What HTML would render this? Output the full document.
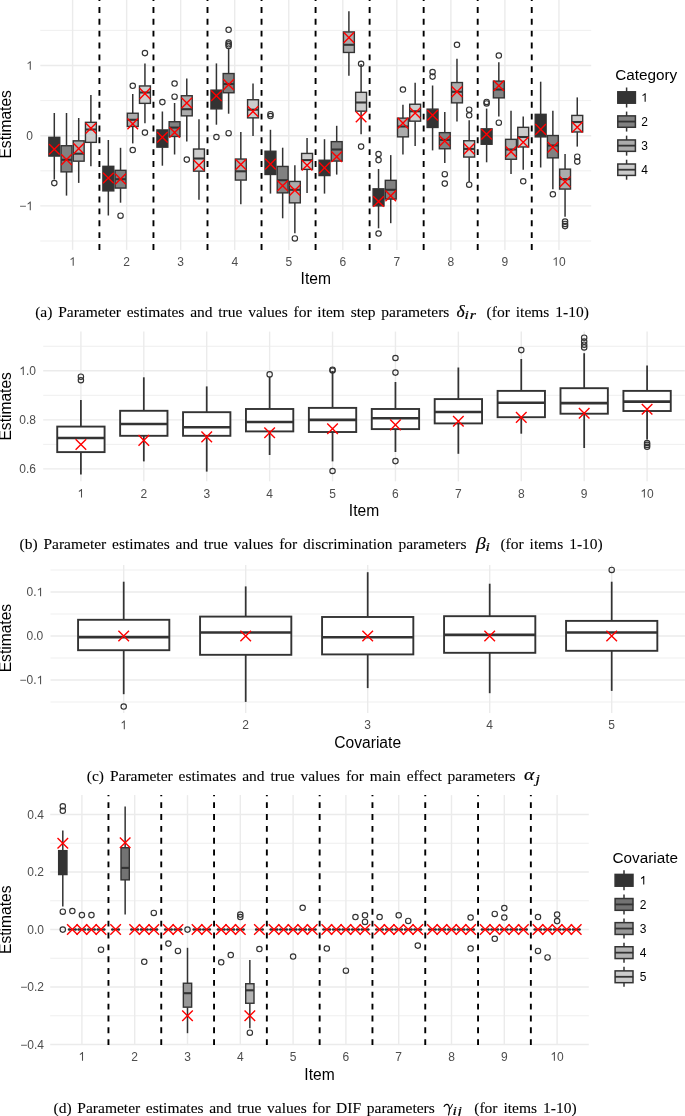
<!DOCTYPE html>
<html><head><meta charset="utf-8"><style>
html,body{margin:0;padding:0;background:#fff;overflow:hidden;}
svg{display:block;}
</style></head><body>
<svg width="685" height="1116" viewBox="0 0 685 1116">
<rect width="685" height="1116" fill="#fff"/>
<line x1="40.3" y1="241" x2="591.2" y2="241" stroke="#EBEBEB" stroke-width="0.8"/>
<line x1="40.3" y1="170.8" x2="591.2" y2="170.8" stroke="#EBEBEB" stroke-width="0.8"/>
<line x1="40.3" y1="100.6" x2="591.2" y2="100.6" stroke="#EBEBEB" stroke-width="0.8"/>
<line x1="40.3" y1="30.4" x2="591.2" y2="30.4" stroke="#EBEBEB" stroke-width="0.8"/>
<line x1="40.3" y1="205.9" x2="591.2" y2="205.9" stroke="#EBEBEB" stroke-width="1.4"/>
<line x1="40.3" y1="135.7" x2="591.2" y2="135.7" stroke="#EBEBEB" stroke-width="1.4"/>
<line x1="40.3" y1="65.5" x2="591.2" y2="65.5" stroke="#EBEBEB" stroke-width="1.4"/>
<line x1="72.6" y1="-2" x2="72.6" y2="249.9" stroke="#EBEBEB" stroke-width="1.4"/>
<line x1="126.64" y1="-2" x2="126.64" y2="249.9" stroke="#EBEBEB" stroke-width="1.4"/>
<line x1="180.68" y1="-2" x2="180.68" y2="249.9" stroke="#EBEBEB" stroke-width="1.4"/>
<line x1="234.72" y1="-2" x2="234.72" y2="249.9" stroke="#EBEBEB" stroke-width="1.4"/>
<line x1="288.76" y1="-2" x2="288.76" y2="249.9" stroke="#EBEBEB" stroke-width="1.4"/>
<line x1="342.8" y1="-2" x2="342.8" y2="249.9" stroke="#EBEBEB" stroke-width="1.4"/>
<line x1="396.84" y1="-2" x2="396.84" y2="249.9" stroke="#EBEBEB" stroke-width="1.4"/>
<line x1="450.88" y1="-2" x2="450.88" y2="249.9" stroke="#EBEBEB" stroke-width="1.4"/>
<line x1="504.92" y1="-2" x2="504.92" y2="249.9" stroke="#EBEBEB" stroke-width="1.4"/>
<line x1="558.96" y1="-2" x2="558.96" y2="249.9" stroke="#EBEBEB" stroke-width="1.4"/>
<line x1="54.3" y1="113" x2="54.3" y2="137.2" stroke="#333333" stroke-width="1.5"/>
<line x1="54.3" y1="156.2" x2="54.3" y2="179.5" stroke="#333333" stroke-width="1.5"/>
<rect x="48.85" y="137.34" width="10.9" height="18.72" fill="#333333" stroke="#333333" stroke-width="1.4"/>
<circle cx="54.3" cy="183.1" r="2.7" fill="none" stroke="#333333" stroke-width="1.15"/>
<path d="M49 143.9L59.6 154.5M49 154.5L59.6 143.9" stroke="#FF0000" stroke-width="1.4" fill="none"/>
<line x1="66.5" y1="113" x2="66.5" y2="145.6" stroke="#333333" stroke-width="1.5"/>
<line x1="66.5" y1="172" x2="66.5" y2="195.6" stroke="#333333" stroke-width="1.5"/>
<rect x="61.05" y="145.74" width="10.9" height="26.12" fill="#818181" stroke="#333333" stroke-width="1.4"/>
<line x1="61.12" y1="159.8" x2="71.88" y2="159.8" stroke="#333333" stroke-width="2.1"/>
<path d="M61.2 154.3L71.8 164.9M61.2 164.9L71.8 154.3" stroke="#FF0000" stroke-width="1.4" fill="none"/>
<line x1="78.7" y1="118" x2="78.7" y2="140.7" stroke="#333333" stroke-width="1.5"/>
<line x1="78.7" y1="161.3" x2="78.7" y2="182.9" stroke="#333333" stroke-width="1.5"/>
<rect x="73.25" y="140.84" width="10.9" height="20.32" fill="#ACACAC" stroke="#333333" stroke-width="1.4"/>
<line x1="73.32" y1="153.7" x2="84.08" y2="153.7" stroke="#333333" stroke-width="2.1"/>
<path d="M73.4 143.3L84 153.9M73.4 153.9L84 143.3" stroke="#FF0000" stroke-width="1.4" fill="none"/>
<line x1="90.9" y1="95" x2="90.9" y2="122.2" stroke="#333333" stroke-width="1.5"/>
<line x1="90.9" y1="142.5" x2="90.9" y2="166.2" stroke="#333333" stroke-width="1.5"/>
<rect x="85.45" y="122.34" width="10.9" height="20.02" fill="#CCCCCC" stroke="#333333" stroke-width="1.4"/>
<line x1="85.52" y1="129.5" x2="96.28" y2="129.5" stroke="#333333" stroke-width="2.1"/>
<path d="M85.6 123L96.2 133.6M85.6 133.6L96.2 123" stroke="#FF0000" stroke-width="1.4" fill="none"/>
<line x1="108.34" y1="140" x2="108.34" y2="166.2" stroke="#333333" stroke-width="1.5"/>
<line x1="108.34" y1="191" x2="108.34" y2="215.5" stroke="#333333" stroke-width="1.5"/>
<rect x="102.89" y="166.34" width="10.9" height="24.52" fill="#333333" stroke="#333333" stroke-width="1.4"/>
<path d="M103.04 172.7L113.64 183.3M103.04 183.3L113.64 172.7" stroke="#FF0000" stroke-width="1.4" fill="none"/>
<line x1="120.54" y1="147.8" x2="120.54" y2="170.2" stroke="#333333" stroke-width="1.5"/>
<line x1="120.54" y1="188.2" x2="120.54" y2="202.7" stroke="#333333" stroke-width="1.5"/>
<rect x="115.09" y="170.34" width="10.9" height="17.72" fill="#818181" stroke="#333333" stroke-width="1.4"/>
<line x1="115.16" y1="179.2" x2="125.92" y2="179.2" stroke="#333333" stroke-width="2.1"/>
<circle cx="120.54" cy="215.7" r="2.7" fill="none" stroke="#333333" stroke-width="1.15"/>
<path d="M115.24 173.7L125.84 184.3M115.24 184.3L125.84 173.7" stroke="#FF0000" stroke-width="1.4" fill="none"/>
<line x1="132.74" y1="94" x2="132.74" y2="113.1" stroke="#333333" stroke-width="1.5"/>
<line x1="132.74" y1="126.6" x2="132.74" y2="143.4" stroke="#333333" stroke-width="1.5"/>
<rect x="127.29" y="113.24" width="10.9" height="13.22" fill="#ACACAC" stroke="#333333" stroke-width="1.4"/>
<line x1="127.36" y1="119.8" x2="138.12" y2="119.8" stroke="#333333" stroke-width="2.1"/>
<circle cx="132.74" cy="85.8" r="2.7" fill="none" stroke="#333333" stroke-width="1.15"/>
<circle cx="132.74" cy="150" r="2.7" fill="none" stroke="#333333" stroke-width="1.15"/>
<path d="M127.44 118.6L138.04 129.2M127.44 129.2L138.04 118.6" stroke="#FF0000" stroke-width="1.4" fill="none"/>
<line x1="144.94" y1="63.4" x2="144.94" y2="85.8" stroke="#333333" stroke-width="1.5"/>
<line x1="144.94" y1="103.5" x2="144.94" y2="123.2" stroke="#333333" stroke-width="1.5"/>
<rect x="139.49" y="85.94" width="10.9" height="17.42" fill="#CCCCCC" stroke="#333333" stroke-width="1.4"/>
<line x1="139.56" y1="92.5" x2="150.32" y2="92.5" stroke="#333333" stroke-width="2.1"/>
<circle cx="144.94" cy="53.1" r="2.7" fill="none" stroke="#333333" stroke-width="1.15"/>
<circle cx="144.94" cy="132.6" r="2.7" fill="none" stroke="#333333" stroke-width="1.15"/>
<path d="M139.64 88.3L150.24 98.9M139.64 98.9L150.24 88.3" stroke="#FF0000" stroke-width="1.4" fill="none"/>
<line x1="162.38" y1="111.5" x2="162.38" y2="129.8" stroke="#333333" stroke-width="1.5"/>
<line x1="162.38" y1="147.3" x2="162.38" y2="165.7" stroke="#333333" stroke-width="1.5"/>
<rect x="156.93" y="129.94" width="10.9" height="17.22" fill="#333333" stroke="#333333" stroke-width="1.4"/>
<circle cx="162.38" cy="102.1" r="2.7" fill="none" stroke="#333333" stroke-width="1.15"/>
<path d="M157.08 131.9L167.68 142.5M157.08 142.5L167.68 131.9" stroke="#FF0000" stroke-width="1.4" fill="none"/>
<line x1="174.58" y1="103" x2="174.58" y2="121.6" stroke="#333333" stroke-width="1.5"/>
<line x1="174.58" y1="136.6" x2="174.58" y2="154.5" stroke="#333333" stroke-width="1.5"/>
<rect x="169.13" y="121.74" width="10.9" height="14.72" fill="#818181" stroke="#333333" stroke-width="1.4"/>
<line x1="169.2" y1="127.6" x2="179.96" y2="127.6" stroke="#333333" stroke-width="2.1"/>
<circle cx="174.58" cy="96.7" r="2.7" fill="none" stroke="#333333" stroke-width="1.15"/>
<circle cx="174.58" cy="83.5" r="2.7" fill="none" stroke="#333333" stroke-width="1.15"/>
<path d="M169.28 127.2L179.88 137.8M169.28 137.8L179.88 127.2" stroke="#FF0000" stroke-width="1.4" fill="none"/>
<line x1="186.78" y1="78.4" x2="186.78" y2="95.6" stroke="#333333" stroke-width="1.5"/>
<line x1="186.78" y1="116" x2="186.78" y2="141.5" stroke="#333333" stroke-width="1.5"/>
<rect x="181.33" y="95.74" width="10.9" height="20.12" fill="#ACACAC" stroke="#333333" stroke-width="1.4"/>
<line x1="181.4" y1="109.2" x2="192.16" y2="109.2" stroke="#333333" stroke-width="2.1"/>
<circle cx="186.78" cy="159.6" r="2.7" fill="none" stroke="#333333" stroke-width="1.15"/>
<path d="M181.48 97.7L192.08 108.3M181.48 108.3L192.08 97.7" stroke="#FF0000" stroke-width="1.4" fill="none"/>
<line x1="198.98" y1="119.3" x2="198.98" y2="148.9" stroke="#333333" stroke-width="1.5"/>
<line x1="198.98" y1="171.3" x2="198.98" y2="199.7" stroke="#333333" stroke-width="1.5"/>
<rect x="193.53" y="149.04" width="10.9" height="22.12" fill="#CCCCCC" stroke="#333333" stroke-width="1.4"/>
<line x1="193.6" y1="158.5" x2="204.36" y2="158.5" stroke="#333333" stroke-width="2.1"/>
<path d="M193.68 159.9L204.28 170.5M193.68 170.5L204.28 159.9" stroke="#FF0000" stroke-width="1.4" fill="none"/>
<line x1="216.42" y1="63.4" x2="216.42" y2="90" stroke="#333333" stroke-width="1.5"/>
<line x1="216.42" y1="109" x2="216.42" y2="124.7" stroke="#333333" stroke-width="1.5"/>
<rect x="210.97" y="90.14" width="10.9" height="18.72" fill="#333333" stroke="#333333" stroke-width="1.4"/>
<circle cx="216.42" cy="137" r="2.7" fill="none" stroke="#333333" stroke-width="1.15"/>
<path d="M211.12 90.5L221.72 101.1M211.12 101.1L221.72 90.5" stroke="#FF0000" stroke-width="1.4" fill="none"/>
<line x1="228.62" y1="48.1" x2="228.62" y2="73.4" stroke="#333333" stroke-width="1.5"/>
<line x1="228.62" y1="92.9" x2="228.62" y2="113.7" stroke="#333333" stroke-width="1.5"/>
<rect x="223.17" y="73.54" width="10.9" height="19.22" fill="#818181" stroke="#333333" stroke-width="1.4"/>
<line x1="223.24" y1="84" x2="234" y2="84" stroke="#333333" stroke-width="2.1"/>
<circle cx="228.62" cy="29.8" r="2.7" fill="none" stroke="#333333" stroke-width="1.15"/>
<circle cx="228.62" cy="42.5" r="2.7" fill="none" stroke="#333333" stroke-width="1.15"/>
<circle cx="228.62" cy="44.3" r="2.7" fill="none" stroke="#333333" stroke-width="1.15"/>
<circle cx="228.62" cy="45.9" r="2.7" fill="none" stroke="#333333" stroke-width="1.15"/>
<circle cx="228.62" cy="133.2" r="2.7" fill="none" stroke="#333333" stroke-width="1.15"/>
<path d="M223.32 79.3L233.92 89.9M223.32 89.9L233.92 79.3" stroke="#FF0000" stroke-width="1.4" fill="none"/>
<line x1="240.82" y1="132.1" x2="240.82" y2="158.9" stroke="#333333" stroke-width="1.5"/>
<line x1="240.82" y1="180.2" x2="240.82" y2="204.2" stroke="#333333" stroke-width="1.5"/>
<rect x="235.37" y="159.04" width="10.9" height="21.02" fill="#ACACAC" stroke="#333333" stroke-width="1.4"/>
<line x1="235.44" y1="171.3" x2="246.2" y2="171.3" stroke="#333333" stroke-width="2.1"/>
<path d="M235.52 159.2L246.12 169.8M235.52 169.8L246.12 159.2" stroke="#FF0000" stroke-width="1.4" fill="none"/>
<line x1="253.02" y1="83.5" x2="253.02" y2="99.6" stroke="#333333" stroke-width="1.5"/>
<line x1="253.02" y1="118" x2="253.02" y2="135.9" stroke="#333333" stroke-width="1.5"/>
<rect x="247.57" y="99.74" width="10.9" height="18.12" fill="#CCCCCC" stroke="#333333" stroke-width="1.4"/>
<line x1="247.64" y1="109.7" x2="258.4" y2="109.7" stroke="#333333" stroke-width="2.1"/>
<path d="M247.72 106.2L258.32 116.8M247.72 116.8L258.32 106.2" stroke="#FF0000" stroke-width="1.4" fill="none"/>
<line x1="270.46" y1="129.8" x2="270.46" y2="151.1" stroke="#333333" stroke-width="1.5"/>
<line x1="270.46" y1="174.6" x2="270.46" y2="193.6" stroke="#333333" stroke-width="1.5"/>
<rect x="265.01" y="151.24" width="10.9" height="23.22" fill="#333333" stroke="#333333" stroke-width="1.4"/>
<circle cx="270.46" cy="114.2" r="2.7" fill="none" stroke="#333333" stroke-width="1.15"/>
<circle cx="270.46" cy="116" r="2.7" fill="none" stroke="#333333" stroke-width="1.15"/>
<path d="M265.16 158.8L275.76 169.4M265.16 169.4L275.76 158.8" stroke="#FF0000" stroke-width="1.4" fill="none"/>
<line x1="282.66" y1="147.7" x2="282.66" y2="166.3" stroke="#333333" stroke-width="1.5"/>
<line x1="282.66" y1="193" x2="282.66" y2="218.3" stroke="#333333" stroke-width="1.5"/>
<rect x="277.21" y="166.44" width="10.9" height="26.42" fill="#818181" stroke="#333333" stroke-width="1.4"/>
<line x1="277.28" y1="180.2" x2="288.04" y2="180.2" stroke="#333333" stroke-width="2.1"/>
<path d="M277.36 180.5L287.96 191.1M277.36 191.1L287.96 180.5" stroke="#FF0000" stroke-width="1.4" fill="none"/>
<line x1="294.86" y1="165.2" x2="294.86" y2="181.3" stroke="#333333" stroke-width="1.5"/>
<line x1="294.86" y1="203" x2="294.86" y2="233.3" stroke="#333333" stroke-width="1.5"/>
<rect x="289.41" y="181.44" width="10.9" height="21.42" fill="#ACACAC" stroke="#333333" stroke-width="1.4"/>
<line x1="289.48" y1="189.8" x2="300.24" y2="189.8" stroke="#333333" stroke-width="2.1"/>
<circle cx="294.86" cy="238.4" r="2.7" fill="none" stroke="#333333" stroke-width="1.15"/>
<path d="M289.56 185L300.16 195.6M289.56 195.6L300.16 185" stroke="#FF0000" stroke-width="1.4" fill="none"/>
<line x1="307.06" y1="138.1" x2="307.06" y2="153.3" stroke="#333333" stroke-width="1.5"/>
<line x1="307.06" y1="169.5" x2="307.06" y2="193" stroke="#333333" stroke-width="1.5"/>
<rect x="301.61" y="153.44" width="10.9" height="15.92" fill="#CCCCCC" stroke="#333333" stroke-width="1.4"/>
<line x1="301.68" y1="160.1" x2="312.44" y2="160.1" stroke="#333333" stroke-width="2.1"/>
<path d="M301.76 159.9L312.36 170.5M301.76 170.5L312.36 159.9" stroke="#FF0000" stroke-width="1.4" fill="none"/>
<line x1="324.5" y1="139.2" x2="324.5" y2="160.1" stroke="#333333" stroke-width="1.5"/>
<line x1="324.5" y1="175.7" x2="324.5" y2="193.6" stroke="#333333" stroke-width="1.5"/>
<rect x="319.05" y="160.24" width="10.9" height="15.32" fill="#333333" stroke="#333333" stroke-width="1.4"/>
<path d="M319.2 162.6L329.8 173.2M319.2 173.2L329.8 162.6" stroke="#FF0000" stroke-width="1.4" fill="none"/>
<line x1="336.7" y1="125.8" x2="336.7" y2="141.5" stroke="#333333" stroke-width="1.5"/>
<line x1="336.7" y1="161.2" x2="336.7" y2="174.6" stroke="#333333" stroke-width="1.5"/>
<rect x="331.25" y="141.64" width="10.9" height="19.42" fill="#818181" stroke="#333333" stroke-width="1.4"/>
<line x1="331.32" y1="149.5" x2="342.08" y2="149.5" stroke="#333333" stroke-width="2.1"/>
<path d="M331.4 151.4L342 162M331.4 162L342 151.4" stroke="#FF0000" stroke-width="1.4" fill="none"/>
<line x1="348.9" y1="11.2" x2="348.9" y2="31.8" stroke="#333333" stroke-width="1.5"/>
<line x1="348.9" y1="52.6" x2="348.9" y2="75.7" stroke="#333333" stroke-width="1.5"/>
<rect x="343.45" y="31.94" width="10.9" height="20.52" fill="#ACACAC" stroke="#333333" stroke-width="1.4"/>
<line x1="343.52" y1="44.8" x2="354.28" y2="44.8" stroke="#333333" stroke-width="2.1"/>
<path d="M343.6 32.3L354.2 42.9M343.6 42.9L354.2 32.3" stroke="#FF0000" stroke-width="1.4" fill="none"/>
<line x1="361.1" y1="64" x2="361.1" y2="92.2" stroke="#333333" stroke-width="1.5"/>
<line x1="361.1" y1="111.3" x2="361.1" y2="134.3" stroke="#333333" stroke-width="1.5"/>
<rect x="355.65" y="92.34" width="10.9" height="18.82" fill="#CCCCCC" stroke="#333333" stroke-width="1.4"/>
<line x1="355.72" y1="102.5" x2="366.48" y2="102.5" stroke="#333333" stroke-width="2.1"/>
<circle cx="361.1" cy="63.8" r="2.7" fill="none" stroke="#333333" stroke-width="1.15"/>
<circle cx="361.1" cy="146.6" r="2.7" fill="none" stroke="#333333" stroke-width="1.15"/>
<path d="M355.8 111.6L366.4 122.2M355.8 122.2L366.4 111.6" stroke="#FF0000" stroke-width="1.4" fill="none"/>
<line x1="378.54" y1="169" x2="378.54" y2="188.7" stroke="#333333" stroke-width="1.5"/>
<line x1="378.54" y1="206" x2="378.54" y2="228.3" stroke="#333333" stroke-width="1.5"/>
<rect x="373.09" y="188.84" width="10.9" height="17.02" fill="#333333" stroke="#333333" stroke-width="1.4"/>
<circle cx="378.54" cy="154" r="2.7" fill="none" stroke="#333333" stroke-width="1.15"/>
<circle cx="378.54" cy="160.1" r="2.7" fill="none" stroke="#333333" stroke-width="1.15"/>
<circle cx="378.54" cy="233.5" r="2.7" fill="none" stroke="#333333" stroke-width="1.15"/>
<path d="M373.24 196.2L383.84 206.8M373.24 206.8L383.84 196.2" stroke="#FF0000" stroke-width="1.4" fill="none"/>
<line x1="390.74" y1="155.1" x2="390.74" y2="180.2" stroke="#333333" stroke-width="1.5"/>
<line x1="390.74" y1="199.2" x2="390.74" y2="223.2" stroke="#333333" stroke-width="1.5"/>
<rect x="385.29" y="180.34" width="10.9" height="18.72" fill="#818181" stroke="#333333" stroke-width="1.4"/>
<line x1="385.36" y1="189.8" x2="396.12" y2="189.8" stroke="#333333" stroke-width="2.1"/>
<path d="M385.44 190.6L396.04 201.2M385.44 201.2L396.04 190.6" stroke="#FF0000" stroke-width="1.4" fill="none"/>
<line x1="402.94" y1="104.8" x2="402.94" y2="118" stroke="#333333" stroke-width="1.5"/>
<line x1="402.94" y1="137" x2="402.94" y2="154.5" stroke="#333333" stroke-width="1.5"/>
<rect x="397.49" y="118.14" width="10.9" height="18.72" fill="#ACACAC" stroke="#333333" stroke-width="1.4"/>
<line x1="397.56" y1="126.5" x2="408.32" y2="126.5" stroke="#333333" stroke-width="2.1"/>
<circle cx="402.94" cy="89.5" r="2.7" fill="none" stroke="#333333" stroke-width="1.15"/>
<path d="M397.64 117.8L408.24 128.4M397.64 128.4L408.24 117.8" stroke="#FF0000" stroke-width="1.4" fill="none"/>
<line x1="415.14" y1="82.8" x2="415.14" y2="104.1" stroke="#333333" stroke-width="1.5"/>
<line x1="415.14" y1="121.3" x2="415.14" y2="146" stroke="#333333" stroke-width="1.5"/>
<rect x="409.69" y="104.24" width="10.9" height="16.92" fill="#CCCCCC" stroke="#333333" stroke-width="1.4"/>
<line x1="409.76" y1="111.3" x2="420.52" y2="111.3" stroke="#333333" stroke-width="2.1"/>
<path d="M409.84 107.7L420.44 118.3M409.84 118.3L420.44 107.7" stroke="#FF0000" stroke-width="1.4" fill="none"/>
<line x1="432.58" y1="85.5" x2="432.58" y2="109" stroke="#333333" stroke-width="1.5"/>
<line x1="432.58" y1="127.6" x2="432.58" y2="150.4" stroke="#333333" stroke-width="1.5"/>
<rect x="427.13" y="109.14" width="10.9" height="18.32" fill="#333333" stroke="#333333" stroke-width="1.4"/>
<circle cx="432.58" cy="72.1" r="2.7" fill="none" stroke="#333333" stroke-width="1.15"/>
<circle cx="432.58" cy="76.6" r="2.7" fill="none" stroke="#333333" stroke-width="1.15"/>
<path d="M427.28 110L437.88 120.6M427.28 120.6L437.88 110" stroke="#FF0000" stroke-width="1.4" fill="none"/>
<line x1="444.78" y1="111.9" x2="444.78" y2="132.5" stroke="#333333" stroke-width="1.5"/>
<line x1="444.78" y1="148.9" x2="444.78" y2="163" stroke="#333333" stroke-width="1.5"/>
<rect x="439.33" y="132.64" width="10.9" height="16.12" fill="#818181" stroke="#333333" stroke-width="1.4"/>
<line x1="439.4" y1="139.9" x2="450.16" y2="139.9" stroke="#333333" stroke-width="2.1"/>
<circle cx="444.78" cy="174.2" r="2.7" fill="none" stroke="#333333" stroke-width="1.15"/>
<circle cx="444.78" cy="183.6" r="2.7" fill="none" stroke="#333333" stroke-width="1.15"/>
<path d="M439.48 135.7L450.08 146.3M439.48 146.3L450.08 135.7" stroke="#FF0000" stroke-width="1.4" fill="none"/>
<line x1="456.98" y1="58.7" x2="456.98" y2="82.4" stroke="#333333" stroke-width="1.5"/>
<line x1="456.98" y1="103" x2="456.98" y2="121.6" stroke="#333333" stroke-width="1.5"/>
<rect x="451.53" y="82.54" width="10.9" height="20.32" fill="#ACACAC" stroke="#333333" stroke-width="1.4"/>
<line x1="451.6" y1="91.8" x2="462.36" y2="91.8" stroke="#333333" stroke-width="2.1"/>
<circle cx="456.98" cy="44.8" r="2.7" fill="none" stroke="#333333" stroke-width="1.15"/>
<path d="M451.68 86.5L462.28 97.1M451.68 97.1L462.28 86.5" stroke="#FF0000" stroke-width="1.4" fill="none"/>
<line x1="469.18" y1="120.2" x2="469.18" y2="140.6" stroke="#333333" stroke-width="1.5"/>
<line x1="469.18" y1="157.2" x2="469.18" y2="182" stroke="#333333" stroke-width="1.5"/>
<rect x="463.73" y="140.74" width="10.9" height="16.32" fill="#CCCCCC" stroke="#333333" stroke-width="1.4"/>
<line x1="463.8" y1="148.9" x2="474.56" y2="148.9" stroke="#333333" stroke-width="2.1"/>
<circle cx="469.18" cy="109.7" r="2.7" fill="none" stroke="#333333" stroke-width="1.15"/>
<circle cx="469.18" cy="115.3" r="2.7" fill="none" stroke="#333333" stroke-width="1.15"/>
<circle cx="469.18" cy="184.7" r="2.7" fill="none" stroke="#333333" stroke-width="1.15"/>
<path d="M463.88 143.6L474.48 154.2M463.88 154.2L474.48 143.6" stroke="#FF0000" stroke-width="1.4" fill="none"/>
<line x1="486.62" y1="108.6" x2="486.62" y2="128.7" stroke="#333333" stroke-width="1.5"/>
<line x1="486.62" y1="144.4" x2="486.62" y2="162.3" stroke="#333333" stroke-width="1.5"/>
<rect x="481.17" y="128.84" width="10.9" height="15.42" fill="#333333" stroke="#333333" stroke-width="1.4"/>
<circle cx="486.62" cy="101.9" r="2.7" fill="none" stroke="#333333" stroke-width="1.15"/>
<circle cx="486.62" cy="103.4" r="2.7" fill="none" stroke="#333333" stroke-width="1.15"/>
<path d="M481.32 129L491.92 139.6M481.32 139.6L491.92 129" stroke="#FF0000" stroke-width="1.4" fill="none"/>
<line x1="498.82" y1="62.2" x2="498.82" y2="81" stroke="#333333" stroke-width="1.5"/>
<line x1="498.82" y1="98" x2="498.82" y2="116.4" stroke="#333333" stroke-width="1.5"/>
<rect x="493.37" y="81.14" width="10.9" height="16.72" fill="#818181" stroke="#333333" stroke-width="1.4"/>
<line x1="493.44" y1="89.5" x2="504.2" y2="89.5" stroke="#333333" stroke-width="2.1"/>
<circle cx="498.82" cy="55.5" r="2.7" fill="none" stroke="#333333" stroke-width="1.15"/>
<circle cx="498.82" cy="122.7" r="2.7" fill="none" stroke="#333333" stroke-width="1.15"/>
<path d="M493.52 80.4L504.12 91M493.52 91L504.12 80.4" stroke="#FF0000" stroke-width="1.4" fill="none"/>
<line x1="511.02" y1="110.8" x2="511.02" y2="139.2" stroke="#333333" stroke-width="1.5"/>
<line x1="511.02" y1="159.4" x2="511.02" y2="173.9" stroke="#333333" stroke-width="1.5"/>
<rect x="505.57" y="139.34" width="10.9" height="19.92" fill="#ACACAC" stroke="#333333" stroke-width="1.4"/>
<line x1="505.64" y1="149.5" x2="516.4" y2="149.5" stroke="#333333" stroke-width="2.1"/>
<path d="M505.72 146.5L516.32 157.1M505.72 157.1L516.32 146.5" stroke="#FF0000" stroke-width="1.4" fill="none"/>
<line x1="523.22" y1="116.4" x2="523.22" y2="127.2" stroke="#333333" stroke-width="1.5"/>
<line x1="523.22" y1="147.1" x2="523.22" y2="169.7" stroke="#333333" stroke-width="1.5"/>
<rect x="517.77" y="127.34" width="10.9" height="19.62" fill="#CCCCCC" stroke="#333333" stroke-width="1.4"/>
<line x1="517.84" y1="137" x2="528.6" y2="137" stroke="#333333" stroke-width="2.1"/>
<circle cx="523.22" cy="181.3" r="2.7" fill="none" stroke="#333333" stroke-width="1.15"/>
<path d="M517.92 136.9L528.52 147.5M517.92 147.5L528.52 136.9" stroke="#FF0000" stroke-width="1.4" fill="none"/>
<line x1="540.66" y1="81.7" x2="540.66" y2="114.2" stroke="#333333" stroke-width="1.5"/>
<line x1="540.66" y1="137" x2="540.66" y2="167.5" stroke="#333333" stroke-width="1.5"/>
<rect x="535.21" y="114.34" width="10.9" height="22.52" fill="#333333" stroke="#333333" stroke-width="1.4"/>
<path d="M535.36 124.1L545.96 134.7M535.36 134.7L545.96 124.1" stroke="#FF0000" stroke-width="1.4" fill="none"/>
<line x1="552.86" y1="110.8" x2="552.86" y2="135.4" stroke="#333333" stroke-width="1.5"/>
<line x1="552.86" y1="158" x2="552.86" y2="189.2" stroke="#333333" stroke-width="1.5"/>
<rect x="547.41" y="135.54" width="10.9" height="22.32" fill="#818181" stroke="#333333" stroke-width="1.4"/>
<line x1="547.48" y1="145.5" x2="558.24" y2="145.5" stroke="#333333" stroke-width="2.1"/>
<circle cx="552.86" cy="194.3" r="2.7" fill="none" stroke="#333333" stroke-width="1.15"/>
<path d="M547.56 142L558.16 152.6M547.56 152.6L558.16 142" stroke="#FF0000" stroke-width="1.4" fill="none"/>
<line x1="565.06" y1="154" x2="565.06" y2="169" stroke="#333333" stroke-width="1.5"/>
<line x1="565.06" y1="189.2" x2="565.06" y2="216.7" stroke="#333333" stroke-width="1.5"/>
<rect x="559.61" y="169.14" width="10.9" height="19.92" fill="#ACACAC" stroke="#333333" stroke-width="1.4"/>
<line x1="559.68" y1="179.1" x2="570.44" y2="179.1" stroke="#333333" stroke-width="2.1"/>
<circle cx="565.06" cy="221.6" r="2.7" fill="none" stroke="#333333" stroke-width="1.15"/>
<circle cx="565.06" cy="223.9" r="2.7" fill="none" stroke="#333333" stroke-width="1.15"/>
<circle cx="565.06" cy="226.1" r="2.7" fill="none" stroke="#333333" stroke-width="1.15"/>
<path d="M559.76 176.5L570.36 187.1M559.76 187.1L570.36 176.5" stroke="#FF0000" stroke-width="1.4" fill="none"/>
<line x1="577.26" y1="97.4" x2="577.26" y2="115.3" stroke="#333333" stroke-width="1.5"/>
<line x1="577.26" y1="132.1" x2="577.26" y2="146.6" stroke="#333333" stroke-width="1.5"/>
<rect x="571.81" y="115.44" width="10.9" height="16.52" fill="#CCCCCC" stroke="#333333" stroke-width="1.4"/>
<line x1="571.88" y1="122" x2="582.64" y2="122" stroke="#333333" stroke-width="2.1"/>
<circle cx="577.26" cy="156.7" r="2.7" fill="none" stroke="#333333" stroke-width="1.15"/>
<circle cx="577.26" cy="161.6" r="2.7" fill="none" stroke="#333333" stroke-width="1.15"/>
<path d="M571.96 121.9L582.56 132.5M571.96 132.5L582.56 121.9" stroke="#FF0000" stroke-width="1.4" fill="none"/>
<line x1="99.42" y1="249.9" x2="99.42" y2="-2" stroke="#000" stroke-width="1.9" stroke-dasharray="5.9 5.95"/>
<line x1="153.46" y1="249.9" x2="153.46" y2="-2" stroke="#000" stroke-width="1.9" stroke-dasharray="5.9 5.95"/>
<line x1="207.5" y1="249.9" x2="207.5" y2="-2" stroke="#000" stroke-width="1.9" stroke-dasharray="5.9 5.95"/>
<line x1="261.54" y1="249.9" x2="261.54" y2="-2" stroke="#000" stroke-width="1.9" stroke-dasharray="5.9 5.95"/>
<line x1="315.58" y1="249.9" x2="315.58" y2="-2" stroke="#000" stroke-width="1.9" stroke-dasharray="5.9 5.95"/>
<line x1="369.62" y1="249.9" x2="369.62" y2="-2" stroke="#000" stroke-width="1.9" stroke-dasharray="5.9 5.95"/>
<line x1="423.66" y1="249.9" x2="423.66" y2="-2" stroke="#000" stroke-width="1.9" stroke-dasharray="5.9 5.95"/>
<line x1="477.7" y1="249.9" x2="477.7" y2="-2" stroke="#000" stroke-width="1.9" stroke-dasharray="5.9 5.95"/>
<line x1="531.74" y1="249.9" x2="531.74" y2="-2" stroke="#000" stroke-width="1.9" stroke-dasharray="5.9 5.95"/>
<line x1="626.6" y1="87.5" x2="626.6" y2="107.5" stroke="#333333" stroke-width="1.5"/>
<rect x="617.8" y="91.8" width="17.6" height="11.4" fill="#333333" stroke="#333333" stroke-width="1.5"/>
<line x1="626.6" y1="111.57" x2="626.6" y2="131.57" stroke="#333333" stroke-width="1.5"/>
<rect x="617.8" y="115.87" width="17.6" height="11.4" fill="#818181" stroke="#333333" stroke-width="1.5"/>
<line x1="617.6" y1="121.57" x2="635.6" y2="121.57" stroke="#333333" stroke-width="1.8"/>
<line x1="626.6" y1="135.64" x2="626.6" y2="155.64" stroke="#333333" stroke-width="1.5"/>
<rect x="617.8" y="139.94" width="17.6" height="11.4" fill="#ACACAC" stroke="#333333" stroke-width="1.5"/>
<line x1="617.6" y1="145.64" x2="635.6" y2="145.64" stroke="#333333" stroke-width="1.8"/>
<line x1="626.6" y1="159.71" x2="626.6" y2="179.71" stroke="#333333" stroke-width="1.5"/>
<rect x="617.8" y="164.01" width="17.6" height="11.4" fill="#CCCCCC" stroke="#333333" stroke-width="1.5"/>
<line x1="617.6" y1="169.71" x2="635.6" y2="169.71" stroke="#333333" stroke-width="1.8"/>
<line x1="43.2" y1="444.38" x2="684.8" y2="444.38" stroke="#EBEBEB" stroke-width="0.8"/>
<line x1="43.2" y1="395.32" x2="684.8" y2="395.32" stroke="#EBEBEB" stroke-width="0.8"/>
<line x1="43.2" y1="346.27" x2="684.8" y2="346.27" stroke="#EBEBEB" stroke-width="0.8"/>
<line x1="43.2" y1="468.9" x2="684.8" y2="468.9" stroke="#EBEBEB" stroke-width="1.4"/>
<line x1="43.2" y1="419.85" x2="684.8" y2="419.85" stroke="#EBEBEB" stroke-width="1.4"/>
<line x1="43.2" y1="370.8" x2="684.8" y2="370.8" stroke="#EBEBEB" stroke-width="1.4"/>
<line x1="80.9" y1="331.6" x2="80.9" y2="481.3" stroke="#EBEBEB" stroke-width="1.4"/>
<line x1="143.81" y1="331.6" x2="143.81" y2="481.3" stroke="#EBEBEB" stroke-width="1.4"/>
<line x1="206.72" y1="331.6" x2="206.72" y2="481.3" stroke="#EBEBEB" stroke-width="1.4"/>
<line x1="269.63" y1="331.6" x2="269.63" y2="481.3" stroke="#EBEBEB" stroke-width="1.4"/>
<line x1="332.54" y1="331.6" x2="332.54" y2="481.3" stroke="#EBEBEB" stroke-width="1.4"/>
<line x1="395.45" y1="331.6" x2="395.45" y2="481.3" stroke="#EBEBEB" stroke-width="1.4"/>
<line x1="458.36" y1="331.6" x2="458.36" y2="481.3" stroke="#EBEBEB" stroke-width="1.4"/>
<line x1="521.27" y1="331.6" x2="521.27" y2="481.3" stroke="#EBEBEB" stroke-width="1.4"/>
<line x1="584.18" y1="331.6" x2="584.18" y2="481.3" stroke="#EBEBEB" stroke-width="1.4"/>
<line x1="647.09" y1="331.6" x2="647.09" y2="481.3" stroke="#EBEBEB" stroke-width="1.4"/>
<line x1="80.9" y1="400" x2="80.9" y2="426.4" stroke="#333333" stroke-width="1.75"/>
<line x1="80.9" y1="452.3" x2="80.9" y2="474.5" stroke="#333333" stroke-width="1.75"/>
<rect x="57.23" y="426.59" width="47.35" height="25.52" fill="#FFFFFF" stroke="#333333" stroke-width="1.9"/>
<line x1="57.32" y1="438" x2="104.48" y2="438" stroke="#333333" stroke-width="2.6"/>
<circle cx="80.9" cy="376.7" r="2.7" fill="none" stroke="#333333" stroke-width="1.15"/>
<circle cx="80.9" cy="380.2" r="2.7" fill="none" stroke="#333333" stroke-width="1.15"/>
<path d="M75.6 439.2L86.2 449.8M75.6 449.8L86.2 439.2" stroke="#FF0000" stroke-width="1.4" fill="none"/>
<line x1="143.81" y1="377.3" x2="143.81" y2="410.6" stroke="#333333" stroke-width="1.75"/>
<line x1="143.81" y1="436" x2="143.81" y2="461.4" stroke="#333333" stroke-width="1.75"/>
<rect x="120.13" y="410.79" width="47.35" height="25.02" fill="#FFFFFF" stroke="#333333" stroke-width="1.9"/>
<line x1="120.23" y1="424" x2="167.39" y2="424" stroke="#333333" stroke-width="2.6"/>
<path d="M138.51 435.1L149.11 445.7M138.51 445.7L149.11 435.1" stroke="#FF0000" stroke-width="1.4" fill="none"/>
<line x1="206.72" y1="386.4" x2="206.72" y2="412" stroke="#333333" stroke-width="1.75"/>
<line x1="206.72" y1="436" x2="206.72" y2="471.6" stroke="#333333" stroke-width="1.75"/>
<rect x="183.04" y="412.19" width="47.35" height="23.62" fill="#FFFFFF" stroke="#333333" stroke-width="1.9"/>
<line x1="183.14" y1="427.2" x2="230.3" y2="427.2" stroke="#333333" stroke-width="2.6"/>
<path d="M201.42 431.6L212.02 442.2M201.42 442.2L212.02 431.6" stroke="#FF0000" stroke-width="1.4" fill="none"/>
<line x1="269.63" y1="376.7" x2="269.63" y2="408.8" stroke="#333333" stroke-width="1.75"/>
<line x1="269.63" y1="431.6" x2="269.63" y2="455" stroke="#333333" stroke-width="1.75"/>
<rect x="245.95" y="408.99" width="47.35" height="22.42" fill="#FFFFFF" stroke="#333333" stroke-width="1.9"/>
<line x1="246.05" y1="422" x2="293.21" y2="422" stroke="#333333" stroke-width="2.6"/>
<circle cx="269.63" cy="374.4" r="2.7" fill="none" stroke="#333333" stroke-width="1.15"/>
<path d="M264.33 427.5L274.93 438.1M264.33 438.1L274.93 427.5" stroke="#FF0000" stroke-width="1.4" fill="none"/>
<line x1="332.54" y1="371" x2="332.54" y2="407.7" stroke="#333333" stroke-width="1.75"/>
<line x1="332.54" y1="432.2" x2="332.54" y2="461.4" stroke="#333333" stroke-width="1.75"/>
<rect x="308.87" y="407.89" width="47.35" height="24.12" fill="#FFFFFF" stroke="#333333" stroke-width="1.9"/>
<line x1="308.96" y1="419.9" x2="356.12" y2="419.9" stroke="#333333" stroke-width="2.6"/>
<circle cx="332.54" cy="369.7" r="2.7" fill="none" stroke="#333333" stroke-width="1.15"/>
<circle cx="332.54" cy="370.5" r="2.7" fill="none" stroke="#333333" stroke-width="1.15"/>
<circle cx="332.54" cy="471" r="2.7" fill="none" stroke="#333333" stroke-width="1.15"/>
<path d="M327.24 423.4L337.84 434M327.24 434L337.84 423.4" stroke="#FF0000" stroke-width="1.4" fill="none"/>
<line x1="395.45" y1="382" x2="395.45" y2="408.8" stroke="#333333" stroke-width="1.75"/>
<line x1="395.45" y1="429.3" x2="395.45" y2="452" stroke="#333333" stroke-width="1.75"/>
<rect x="371.77" y="408.99" width="47.35" height="20.12" fill="#FFFFFF" stroke="#333333" stroke-width="1.9"/>
<line x1="371.87" y1="418.2" x2="419.03" y2="418.2" stroke="#333333" stroke-width="2.6"/>
<circle cx="395.45" cy="358" r="2.7" fill="none" stroke="#333333" stroke-width="1.15"/>
<circle cx="395.45" cy="372.6" r="2.7" fill="none" stroke="#333333" stroke-width="1.15"/>
<circle cx="395.45" cy="461.1" r="2.7" fill="none" stroke="#333333" stroke-width="1.15"/>
<path d="M390.15 419.6L400.75 430.2M390.15 430.2L400.75 419.6" stroke="#FF0000" stroke-width="1.4" fill="none"/>
<line x1="458.36" y1="367.5" x2="458.36" y2="398.9" stroke="#333333" stroke-width="1.75"/>
<line x1="458.36" y1="423.6" x2="458.36" y2="453.8" stroke="#333333" stroke-width="1.75"/>
<rect x="434.69" y="399.09" width="47.35" height="24.32" fill="#FFFFFF" stroke="#333333" stroke-width="1.9"/>
<line x1="434.78" y1="412" x2="481.94" y2="412" stroke="#333333" stroke-width="2.6"/>
<path d="M453.06 416L463.66 426.6M453.06 426.6L463.66 416" stroke="#FF0000" stroke-width="1.4" fill="none"/>
<line x1="521.27" y1="359" x2="521.27" y2="390.7" stroke="#333333" stroke-width="1.75"/>
<line x1="521.27" y1="417.4" x2="521.27" y2="433.7" stroke="#333333" stroke-width="1.75"/>
<rect x="497.6" y="390.89" width="47.35" height="26.32" fill="#FFFFFF" stroke="#333333" stroke-width="1.9"/>
<line x1="497.69" y1="402.7" x2="544.85" y2="402.7" stroke="#333333" stroke-width="2.6"/>
<circle cx="521.27" cy="350.1" r="2.7" fill="none" stroke="#333333" stroke-width="1.15"/>
<path d="M515.97 412.1L526.57 422.7M515.97 422.7L526.57 412.1" stroke="#FF0000" stroke-width="1.4" fill="none"/>
<line x1="584.18" y1="353.2" x2="584.18" y2="388" stroke="#333333" stroke-width="1.75"/>
<line x1="584.18" y1="413.9" x2="584.18" y2="448" stroke="#333333" stroke-width="1.75"/>
<rect x="560.5" y="388.19" width="47.35" height="25.52" fill="#FFFFFF" stroke="#333333" stroke-width="1.9"/>
<line x1="560.6" y1="403.1" x2="607.76" y2="403.1" stroke="#333333" stroke-width="2.6"/>
<circle cx="584.18" cy="337.7" r="2.7" fill="none" stroke="#333333" stroke-width="1.15"/>
<circle cx="584.18" cy="341.6" r="2.7" fill="none" stroke="#333333" stroke-width="1.15"/>
<circle cx="584.18" cy="344.7" r="2.7" fill="none" stroke="#333333" stroke-width="1.15"/>
<circle cx="584.18" cy="347.4" r="2.7" fill="none" stroke="#333333" stroke-width="1.15"/>
<path d="M578.88 407.9L589.48 418.5M578.88 418.5L589.48 407.9" stroke="#FF0000" stroke-width="1.4" fill="none"/>
<line x1="647.09" y1="365.6" x2="647.09" y2="390.7" stroke="#333333" stroke-width="1.75"/>
<line x1="647.09" y1="411.2" x2="647.09" y2="439.5" stroke="#333333" stroke-width="1.75"/>
<rect x="623.41" y="390.89" width="47.35" height="20.12" fill="#FFFFFF" stroke="#333333" stroke-width="1.9"/>
<line x1="623.51" y1="401.6" x2="670.67" y2="401.6" stroke="#333333" stroke-width="2.6"/>
<circle cx="647.09" cy="443" r="2.7" fill="none" stroke="#333333" stroke-width="1.15"/>
<circle cx="647.09" cy="444.9" r="2.7" fill="none" stroke="#333333" stroke-width="1.15"/>
<circle cx="647.09" cy="446.8" r="2.7" fill="none" stroke="#333333" stroke-width="1.15"/>
<path d="M641.79 404L652.39 414.6M641.79 414.6L652.39 404" stroke="#FF0000" stroke-width="1.4" fill="none"/>
<line x1="50.5" y1="702" x2="684.9" y2="702" stroke="#EBEBEB" stroke-width="0.8"/>
<line x1="50.5" y1="658" x2="684.9" y2="658" stroke="#EBEBEB" stroke-width="0.8"/>
<line x1="50.5" y1="614" x2="684.9" y2="614" stroke="#EBEBEB" stroke-width="0.8"/>
<line x1="50.5" y1="570" x2="684.9" y2="570" stroke="#EBEBEB" stroke-width="0.8"/>
<line x1="50.5" y1="680" x2="684.9" y2="680" stroke="#EBEBEB" stroke-width="1.4"/>
<line x1="50.5" y1="636" x2="684.9" y2="636" stroke="#EBEBEB" stroke-width="1.4"/>
<line x1="50.5" y1="592" x2="684.9" y2="592" stroke="#EBEBEB" stroke-width="1.4"/>
<line x1="123.7" y1="565" x2="123.7" y2="713.1" stroke="#EBEBEB" stroke-width="1.4"/>
<line x1="245.7" y1="565" x2="245.7" y2="713.1" stroke="#EBEBEB" stroke-width="1.4"/>
<line x1="367.7" y1="565" x2="367.7" y2="713.1" stroke="#EBEBEB" stroke-width="1.4"/>
<line x1="489.7" y1="565" x2="489.7" y2="713.1" stroke="#EBEBEB" stroke-width="1.4"/>
<line x1="611.7" y1="565" x2="611.7" y2="713.1" stroke="#EBEBEB" stroke-width="1.4"/>
<line x1="123.7" y1="581.7" x2="123.7" y2="619.6" stroke="#333333" stroke-width="1.75"/>
<line x1="123.7" y1="650.4" x2="123.7" y2="694.2" stroke="#333333" stroke-width="1.75"/>
<rect x="78.07" y="619.79" width="91.25" height="30.42" fill="#FFFFFF" stroke="#333333" stroke-width="1.9"/>
<line x1="78.17" y1="637.1" x2="169.23" y2="637.1" stroke="#333333" stroke-width="2.6"/>
<circle cx="123.7" cy="706.5" r="2.7" fill="none" stroke="#333333" stroke-width="1.15"/>
<path d="M118.4 630.7L129 641.3M118.4 641.3L129 630.7" stroke="#FF0000" stroke-width="1.4" fill="none"/>
<line x1="245.7" y1="586.4" x2="245.7" y2="616.4" stroke="#333333" stroke-width="1.75"/>
<line x1="245.7" y1="655" x2="245.7" y2="701.9" stroke="#333333" stroke-width="1.75"/>
<rect x="200.07" y="616.59" width="91.25" height="38.22" fill="#FFFFFF" stroke="#333333" stroke-width="1.9"/>
<line x1="200.17" y1="632.5" x2="291.23" y2="632.5" stroke="#333333" stroke-width="2.6"/>
<path d="M240.4 630.7L251 641.3M240.4 641.3L251 630.7" stroke="#FF0000" stroke-width="1.4" fill="none"/>
<line x1="367.7" y1="572.2" x2="367.7" y2="616.8" stroke="#333333" stroke-width="1.75"/>
<line x1="367.7" y1="654.6" x2="367.7" y2="688.1" stroke="#333333" stroke-width="1.75"/>
<rect x="322.07" y="616.99" width="91.25" height="37.42" fill="#FFFFFF" stroke="#333333" stroke-width="1.9"/>
<line x1="322.17" y1="637.3" x2="413.23" y2="637.3" stroke="#333333" stroke-width="2.6"/>
<path d="M362.4 630.7L373 641.3M362.4 641.3L373 630.7" stroke="#FF0000" stroke-width="1.4" fill="none"/>
<line x1="489.7" y1="583.7" x2="489.7" y2="616" stroke="#333333" stroke-width="1.75"/>
<line x1="489.7" y1="653" x2="489.7" y2="693.2" stroke="#333333" stroke-width="1.75"/>
<rect x="444.07" y="616.19" width="91.25" height="36.62" fill="#FFFFFF" stroke="#333333" stroke-width="1.9"/>
<line x1="444.17" y1="634.9" x2="535.23" y2="634.9" stroke="#333333" stroke-width="2.6"/>
<path d="M484.4 630.7L495 641.3M484.4 641.3L495 630.7" stroke="#FF0000" stroke-width="1.4" fill="none"/>
<line x1="611.7" y1="581.7" x2="611.7" y2="620.7" stroke="#333333" stroke-width="1.75"/>
<line x1="611.7" y1="651" x2="611.7" y2="690.9" stroke="#333333" stroke-width="1.75"/>
<rect x="566.08" y="620.89" width="91.25" height="29.92" fill="#FFFFFF" stroke="#333333" stroke-width="1.9"/>
<line x1="566.17" y1="632.5" x2="657.23" y2="632.5" stroke="#333333" stroke-width="2.6"/>
<circle cx="611.7" cy="569.9" r="2.7" fill="none" stroke="#333333" stroke-width="1.15"/>
<path d="M606.4 630.7L617 641.3M606.4 641.3L617 630.7" stroke="#FF0000" stroke-width="1.4" fill="none"/>
<line x1="50.2" y1="1015.75" x2="588.8" y2="1015.75" stroke="#EBEBEB" stroke-width="0.8"/>
<line x1="50.2" y1="958.25" x2="588.8" y2="958.25" stroke="#EBEBEB" stroke-width="0.8"/>
<line x1="50.2" y1="900.75" x2="588.8" y2="900.75" stroke="#EBEBEB" stroke-width="0.8"/>
<line x1="50.2" y1="843.25" x2="588.8" y2="843.25" stroke="#EBEBEB" stroke-width="0.8"/>
<line x1="50.2" y1="1044.5" x2="588.8" y2="1044.5" stroke="#EBEBEB" stroke-width="1.4"/>
<line x1="50.2" y1="987" x2="588.8" y2="987" stroke="#EBEBEB" stroke-width="1.4"/>
<line x1="50.2" y1="929.5" x2="588.8" y2="929.5" stroke="#EBEBEB" stroke-width="1.4"/>
<line x1="50.2" y1="872" x2="588.8" y2="872" stroke="#EBEBEB" stroke-width="1.4"/>
<line x1="50.2" y1="814.5" x2="588.8" y2="814.5" stroke="#EBEBEB" stroke-width="1.4"/>
<line x1="81.9" y1="795.1" x2="81.9" y2="1045.1" stroke="#EBEBEB" stroke-width="1.4"/>
<line x1="134.7" y1="795.1" x2="134.7" y2="1045.1" stroke="#EBEBEB" stroke-width="1.4"/>
<line x1="187.5" y1="795.1" x2="187.5" y2="1045.1" stroke="#EBEBEB" stroke-width="1.4"/>
<line x1="240.3" y1="795.1" x2="240.3" y2="1045.1" stroke="#EBEBEB" stroke-width="1.4"/>
<line x1="293.1" y1="795.1" x2="293.1" y2="1045.1" stroke="#EBEBEB" stroke-width="1.4"/>
<line x1="345.9" y1="795.1" x2="345.9" y2="1045.1" stroke="#EBEBEB" stroke-width="1.4"/>
<line x1="398.7" y1="795.1" x2="398.7" y2="1045.1" stroke="#EBEBEB" stroke-width="1.4"/>
<line x1="451.5" y1="795.1" x2="451.5" y2="1045.1" stroke="#EBEBEB" stroke-width="1.4"/>
<line x1="504.3" y1="795.1" x2="504.3" y2="1045.1" stroke="#EBEBEB" stroke-width="1.4"/>
<line x1="557.1" y1="795.1" x2="557.1" y2="1045.1" stroke="#EBEBEB" stroke-width="1.4"/>
<line x1="62.8" y1="830.5" x2="62.8" y2="850.5" stroke="#333333" stroke-width="1.5"/>
<line x1="62.8" y1="874.7" x2="62.8" y2="906.6" stroke="#333333" stroke-width="1.5"/>
<rect x="58.65" y="850.64" width="8.3" height="23.92" fill="#333333" stroke="#333333" stroke-width="1.4"/>
<circle cx="62.8" cy="806.3" r="2.7" fill="none" stroke="#333333" stroke-width="1.15"/>
<circle cx="62.8" cy="810.8" r="2.7" fill="none" stroke="#333333" stroke-width="1.15"/>
<circle cx="62.8" cy="911.7" r="2.7" fill="none" stroke="#333333" stroke-width="1.15"/>
<circle cx="62.8" cy="929.6" r="2.7" fill="none" stroke="#333333" stroke-width="1.15"/>
<line x1="67.95" y1="929.5" x2="76.75" y2="929.5" stroke="#333333" stroke-width="1.3"/>
<circle cx="69.25" cy="929.5" r="1.35" fill="#333333"/><circle cx="75.45" cy="929.5" r="1.35" fill="#333333"/>
<circle cx="72.35" cy="911" r="2.7" fill="none" stroke="#333333" stroke-width="1.15"/>
<line x1="77.5" y1="929.5" x2="86.3" y2="929.5" stroke="#333333" stroke-width="1.3"/>
<circle cx="78.8" cy="929.5" r="1.35" fill="#333333"/><circle cx="85" cy="929.5" r="1.35" fill="#333333"/>
<circle cx="81.9" cy="915.1" r="2.7" fill="none" stroke="#333333" stroke-width="1.15"/>
<line x1="87.05" y1="929.5" x2="95.85" y2="929.5" stroke="#333333" stroke-width="1.3"/>
<circle cx="88.35" cy="929.5" r="1.35" fill="#333333"/><circle cx="94.55" cy="929.5" r="1.35" fill="#333333"/>
<circle cx="91.45" cy="915.1" r="2.7" fill="none" stroke="#333333" stroke-width="1.15"/>
<line x1="96.6" y1="929.5" x2="105.4" y2="929.5" stroke="#333333" stroke-width="1.3"/>
<circle cx="97.9" cy="929.5" r="1.35" fill="#333333"/><circle cx="104.1" cy="929.5" r="1.35" fill="#333333"/>
<circle cx="101" cy="949.7" r="2.7" fill="none" stroke="#333333" stroke-width="1.15"/>
<line x1="111.2" y1="929.5" x2="120" y2="929.5" stroke="#333333" stroke-width="1.3"/>
<circle cx="112.5" cy="929.5" r="1.35" fill="#333333"/><circle cx="118.7" cy="929.5" r="1.35" fill="#333333"/>
<line x1="125.15" y1="806.5" x2="125.15" y2="847.6" stroke="#333333" stroke-width="1.5"/>
<line x1="125.15" y1="880" x2="125.15" y2="914.6" stroke="#333333" stroke-width="1.5"/>
<rect x="121" y="847.74" width="8.3" height="32.12" fill="#737373" stroke="#333333" stroke-width="1.4"/>
<line x1="121.07" y1="867.9" x2="129.23" y2="867.9" stroke="#333333" stroke-width="2.1"/>
<line x1="130.3" y1="929.5" x2="139.1" y2="929.5" stroke="#333333" stroke-width="1.3"/>
<circle cx="131.6" cy="929.5" r="1.35" fill="#333333"/><circle cx="137.8" cy="929.5" r="1.35" fill="#333333"/>
<line x1="139.85" y1="929.5" x2="148.65" y2="929.5" stroke="#333333" stroke-width="1.3"/>
<circle cx="141.15" cy="929.5" r="1.35" fill="#333333"/><circle cx="147.35" cy="929.5" r="1.35" fill="#333333"/>
<circle cx="144.25" cy="961.8" r="2.7" fill="none" stroke="#333333" stroke-width="1.15"/>
<line x1="149.4" y1="929.5" x2="158.2" y2="929.5" stroke="#333333" stroke-width="1.3"/>
<circle cx="150.7" cy="929.5" r="1.35" fill="#333333"/><circle cx="156.9" cy="929.5" r="1.35" fill="#333333"/>
<circle cx="153.8" cy="912.9" r="2.7" fill="none" stroke="#333333" stroke-width="1.15"/>
<line x1="164" y1="929.5" x2="172.8" y2="929.5" stroke="#333333" stroke-width="1.3"/>
<circle cx="165.3" cy="929.5" r="1.35" fill="#333333"/><circle cx="171.5" cy="929.5" r="1.35" fill="#333333"/>
<circle cx="168.4" cy="943.6" r="2.7" fill="none" stroke="#333333" stroke-width="1.15"/>
<line x1="173.55" y1="929.5" x2="182.35" y2="929.5" stroke="#333333" stroke-width="1.3"/>
<circle cx="174.85" cy="929.5" r="1.35" fill="#333333"/><circle cx="181.05" cy="929.5" r="1.35" fill="#333333"/>
<circle cx="177.95" cy="950.9" r="2.7" fill="none" stroke="#333333" stroke-width="1.15"/>
<line x1="187.5" y1="947.8" x2="187.5" y2="983.1" stroke="#333333" stroke-width="1.5"/>
<line x1="187.5" y1="1007.3" x2="187.5" y2="1033.2" stroke="#333333" stroke-width="1.5"/>
<rect x="183.35" y="983.24" width="8.3" height="23.92" fill="#989898" stroke="#333333" stroke-width="1.4"/>
<line x1="183.42" y1="993.2" x2="191.58" y2="993.2" stroke="#333333" stroke-width="2.1"/>
<circle cx="187.5" cy="929.6" r="2.7" fill="none" stroke="#333333" stroke-width="1.15"/>
<line x1="192.65" y1="929.5" x2="201.45" y2="929.5" stroke="#333333" stroke-width="1.3"/>
<circle cx="193.95" cy="929.5" r="1.35" fill="#333333"/><circle cx="200.15" cy="929.5" r="1.35" fill="#333333"/>
<line x1="202.2" y1="929.5" x2="211" y2="929.5" stroke="#333333" stroke-width="1.3"/>
<circle cx="203.5" cy="929.5" r="1.35" fill="#333333"/><circle cx="209.7" cy="929.5" r="1.35" fill="#333333"/>
<line x1="216.8" y1="929.5" x2="225.6" y2="929.5" stroke="#333333" stroke-width="1.3"/>
<circle cx="218.1" cy="929.5" r="1.35" fill="#333333"/><circle cx="224.3" cy="929.5" r="1.35" fill="#333333"/>
<circle cx="221.2" cy="962.3" r="2.7" fill="none" stroke="#333333" stroke-width="1.15"/>
<line x1="226.35" y1="929.5" x2="235.15" y2="929.5" stroke="#333333" stroke-width="1.3"/>
<circle cx="227.65" cy="929.5" r="1.35" fill="#333333"/><circle cx="233.85" cy="929.5" r="1.35" fill="#333333"/>
<circle cx="230.75" cy="955" r="2.7" fill="none" stroke="#333333" stroke-width="1.15"/>
<line x1="235.9" y1="929.5" x2="244.7" y2="929.5" stroke="#333333" stroke-width="1.3"/>
<circle cx="237.2" cy="929.5" r="1.35" fill="#333333"/><circle cx="243.4" cy="929.5" r="1.35" fill="#333333"/>
<circle cx="240.3" cy="914.6" r="2.7" fill="none" stroke="#333333" stroke-width="1.15"/>
<circle cx="240.3" cy="917" r="2.7" fill="none" stroke="#333333" stroke-width="1.15"/>
<line x1="249.85" y1="959.9" x2="249.85" y2="983.6" stroke="#333333" stroke-width="1.5"/>
<line x1="249.85" y1="1003.4" x2="249.85" y2="1028.3" stroke="#333333" stroke-width="1.5"/>
<rect x="245.7" y="983.74" width="8.3" height="19.52" fill="#B4B4B4" stroke="#333333" stroke-width="1.4"/>
<line x1="245.77" y1="990.3" x2="253.93" y2="990.3" stroke="#333333" stroke-width="2.1"/>
<circle cx="249.85" cy="1032.7" r="2.7" fill="none" stroke="#333333" stroke-width="1.15"/>
<line x1="255" y1="929.5" x2="263.8" y2="929.5" stroke="#333333" stroke-width="1.3"/>
<circle cx="256.3" cy="929.5" r="1.35" fill="#333333"/><circle cx="262.5" cy="929.5" r="1.35" fill="#333333"/>
<circle cx="259.4" cy="949" r="2.7" fill="none" stroke="#333333" stroke-width="1.15"/>
<line x1="269.6" y1="929.5" x2="278.4" y2="929.5" stroke="#333333" stroke-width="1.3"/>
<circle cx="270.9" cy="929.5" r="1.35" fill="#333333"/><circle cx="277.1" cy="929.5" r="1.35" fill="#333333"/>
<line x1="279.15" y1="929.5" x2="287.95" y2="929.5" stroke="#333333" stroke-width="1.3"/>
<circle cx="280.45" cy="929.5" r="1.35" fill="#333333"/><circle cx="286.65" cy="929.5" r="1.35" fill="#333333"/>
<line x1="288.7" y1="929.5" x2="297.5" y2="929.5" stroke="#333333" stroke-width="1.3"/>
<circle cx="290" cy="929.5" r="1.35" fill="#333333"/><circle cx="296.2" cy="929.5" r="1.35" fill="#333333"/>
<circle cx="293.1" cy="956.5" r="2.7" fill="none" stroke="#333333" stroke-width="1.15"/>
<line x1="298.25" y1="929.5" x2="307.05" y2="929.5" stroke="#333333" stroke-width="1.3"/>
<circle cx="299.55" cy="929.5" r="1.35" fill="#333333"/><circle cx="305.75" cy="929.5" r="1.35" fill="#333333"/>
<circle cx="302.65" cy="907.8" r="2.7" fill="none" stroke="#333333" stroke-width="1.15"/>
<line x1="307.8" y1="929.5" x2="316.6" y2="929.5" stroke="#333333" stroke-width="1.3"/>
<circle cx="309.1" cy="929.5" r="1.35" fill="#333333"/><circle cx="315.3" cy="929.5" r="1.35" fill="#333333"/>
<line x1="322.4" y1="929.5" x2="331.2" y2="929.5" stroke="#333333" stroke-width="1.3"/>
<circle cx="323.7" cy="929.5" r="1.35" fill="#333333"/><circle cx="329.9" cy="929.5" r="1.35" fill="#333333"/>
<circle cx="326.8" cy="948.5" r="2.7" fill="none" stroke="#333333" stroke-width="1.15"/>
<line x1="331.95" y1="929.5" x2="340.75" y2="929.5" stroke="#333333" stroke-width="1.3"/>
<circle cx="333.25" cy="929.5" r="1.35" fill="#333333"/><circle cx="339.45" cy="929.5" r="1.35" fill="#333333"/>
<line x1="341.5" y1="929.5" x2="350.3" y2="929.5" stroke="#333333" stroke-width="1.3"/>
<circle cx="342.8" cy="929.5" r="1.35" fill="#333333"/><circle cx="349" cy="929.5" r="1.35" fill="#333333"/>
<circle cx="345.9" cy="970.7" r="2.7" fill="none" stroke="#333333" stroke-width="1.15"/>
<line x1="351.05" y1="929.5" x2="359.85" y2="929.5" stroke="#333333" stroke-width="1.3"/>
<circle cx="352.35" cy="929.5" r="1.35" fill="#333333"/><circle cx="358.55" cy="929.5" r="1.35" fill="#333333"/>
<circle cx="355.45" cy="917" r="2.7" fill="none" stroke="#333333" stroke-width="1.15"/>
<line x1="360.6" y1="929.5" x2="369.4" y2="929.5" stroke="#333333" stroke-width="1.3"/>
<circle cx="361.9" cy="929.5" r="1.35" fill="#333333"/><circle cx="368.1" cy="929.5" r="1.35" fill="#333333"/>
<circle cx="365" cy="915.3" r="2.7" fill="none" stroke="#333333" stroke-width="1.15"/>
<circle cx="365" cy="921.9" r="2.7" fill="none" stroke="#333333" stroke-width="1.15"/>
<line x1="375.2" y1="929.5" x2="384" y2="929.5" stroke="#333333" stroke-width="1.3"/>
<circle cx="376.5" cy="929.5" r="1.35" fill="#333333"/><circle cx="382.7" cy="929.5" r="1.35" fill="#333333"/>
<circle cx="379.6" cy="917" r="2.7" fill="none" stroke="#333333" stroke-width="1.15"/>
<line x1="384.75" y1="929.5" x2="393.55" y2="929.5" stroke="#333333" stroke-width="1.3"/>
<circle cx="386.05" cy="929.5" r="1.35" fill="#333333"/><circle cx="392.25" cy="929.5" r="1.35" fill="#333333"/>
<line x1="394.3" y1="929.5" x2="403.1" y2="929.5" stroke="#333333" stroke-width="1.3"/>
<circle cx="395.6" cy="929.5" r="1.35" fill="#333333"/><circle cx="401.8" cy="929.5" r="1.35" fill="#333333"/>
<circle cx="398.7" cy="915.3" r="2.7" fill="none" stroke="#333333" stroke-width="1.15"/>
<line x1="403.85" y1="929.5" x2="412.65" y2="929.5" stroke="#333333" stroke-width="1.3"/>
<circle cx="405.15" cy="929.5" r="1.35" fill="#333333"/><circle cx="411.35" cy="929.5" r="1.35" fill="#333333"/>
<circle cx="408.25" cy="920.9" r="2.7" fill="none" stroke="#333333" stroke-width="1.15"/>
<line x1="413.4" y1="929.5" x2="422.2" y2="929.5" stroke="#333333" stroke-width="1.3"/>
<circle cx="414.7" cy="929.5" r="1.35" fill="#333333"/><circle cx="420.9" cy="929.5" r="1.35" fill="#333333"/>
<circle cx="417.8" cy="945.6" r="2.7" fill="none" stroke="#333333" stroke-width="1.15"/>
<line x1="428" y1="929.5" x2="436.8" y2="929.5" stroke="#333333" stroke-width="1.3"/>
<circle cx="429.3" cy="929.5" r="1.35" fill="#333333"/><circle cx="435.5" cy="929.5" r="1.35" fill="#333333"/>
<line x1="437.55" y1="929.5" x2="446.35" y2="929.5" stroke="#333333" stroke-width="1.3"/>
<circle cx="438.85" cy="929.5" r="1.35" fill="#333333"/><circle cx="445.05" cy="929.5" r="1.35" fill="#333333"/>
<line x1="447.1" y1="929.5" x2="455.9" y2="929.5" stroke="#333333" stroke-width="1.3"/>
<circle cx="448.4" cy="929.5" r="1.35" fill="#333333"/><circle cx="454.6" cy="929.5" r="1.35" fill="#333333"/>
<line x1="456.65" y1="929.5" x2="465.45" y2="929.5" stroke="#333333" stroke-width="1.3"/>
<circle cx="457.95" cy="929.5" r="1.35" fill="#333333"/><circle cx="464.15" cy="929.5" r="1.35" fill="#333333"/>
<line x1="466.2" y1="929.5" x2="475" y2="929.5" stroke="#333333" stroke-width="1.3"/>
<circle cx="467.5" cy="929.5" r="1.35" fill="#333333"/><circle cx="473.7" cy="929.5" r="1.35" fill="#333333"/>
<circle cx="470.6" cy="917.5" r="2.7" fill="none" stroke="#333333" stroke-width="1.15"/>
<circle cx="470.6" cy="948.5" r="2.7" fill="none" stroke="#333333" stroke-width="1.15"/>
<line x1="480.8" y1="929.5" x2="489.6" y2="929.5" stroke="#333333" stroke-width="1.3"/>
<circle cx="482.1" cy="929.5" r="1.35" fill="#333333"/><circle cx="488.3" cy="929.5" r="1.35" fill="#333333"/>
<line x1="490.35" y1="929.5" x2="499.15" y2="929.5" stroke="#333333" stroke-width="1.3"/>
<circle cx="491.65" cy="929.5" r="1.35" fill="#333333"/><circle cx="497.85" cy="929.5" r="1.35" fill="#333333"/>
<circle cx="494.75" cy="913.9" r="2.7" fill="none" stroke="#333333" stroke-width="1.15"/>
<circle cx="494.75" cy="938.8" r="2.7" fill="none" stroke="#333333" stroke-width="1.15"/>
<line x1="499.9" y1="929.5" x2="508.7" y2="929.5" stroke="#333333" stroke-width="1.3"/>
<circle cx="501.2" cy="929.5" r="1.35" fill="#333333"/><circle cx="507.4" cy="929.5" r="1.35" fill="#333333"/>
<circle cx="504.3" cy="908.1" r="2.7" fill="none" stroke="#333333" stroke-width="1.15"/>
<circle cx="504.3" cy="917.5" r="2.7" fill="none" stroke="#333333" stroke-width="1.15"/>
<line x1="509.45" y1="929.5" x2="518.25" y2="929.5" stroke="#333333" stroke-width="1.3"/>
<circle cx="510.75" cy="929.5" r="1.35" fill="#333333"/><circle cx="516.95" cy="929.5" r="1.35" fill="#333333"/>
<line x1="519" y1="929.5" x2="527.8" y2="929.5" stroke="#333333" stroke-width="1.3"/>
<circle cx="520.3" cy="929.5" r="1.35" fill="#333333"/><circle cx="526.5" cy="929.5" r="1.35" fill="#333333"/>
<line x1="533.6" y1="929.5" x2="542.4" y2="929.5" stroke="#333333" stroke-width="1.3"/>
<circle cx="534.9" cy="929.5" r="1.35" fill="#333333"/><circle cx="541.1" cy="929.5" r="1.35" fill="#333333"/>
<circle cx="538" cy="917" r="2.7" fill="none" stroke="#333333" stroke-width="1.15"/>
<circle cx="538" cy="950.9" r="2.7" fill="none" stroke="#333333" stroke-width="1.15"/>
<line x1="543.15" y1="929.5" x2="551.95" y2="929.5" stroke="#333333" stroke-width="1.3"/>
<circle cx="544.45" cy="929.5" r="1.35" fill="#333333"/><circle cx="550.65" cy="929.5" r="1.35" fill="#333333"/>
<circle cx="547.55" cy="957.4" r="2.7" fill="none" stroke="#333333" stroke-width="1.15"/>
<line x1="552.7" y1="929.5" x2="561.5" y2="929.5" stroke="#333333" stroke-width="1.3"/>
<circle cx="554" cy="929.5" r="1.35" fill="#333333"/><circle cx="560.2" cy="929.5" r="1.35" fill="#333333"/>
<circle cx="557.1" cy="914.6" r="2.7" fill="none" stroke="#333333" stroke-width="1.15"/>
<circle cx="557.1" cy="921.1" r="2.7" fill="none" stroke="#333333" stroke-width="1.15"/>
<line x1="562.25" y1="929.5" x2="571.05" y2="929.5" stroke="#333333" stroke-width="1.3"/>
<circle cx="563.55" cy="929.5" r="1.35" fill="#333333"/><circle cx="569.75" cy="929.5" r="1.35" fill="#333333"/>
<line x1="571.8" y1="929.5" x2="580.6" y2="929.5" stroke="#333333" stroke-width="1.3"/>
<circle cx="573.1" cy="929.5" r="1.35" fill="#333333"/><circle cx="579.3" cy="929.5" r="1.35" fill="#333333"/>
<path d="M57.5 837.9L68.1 848.5M57.5 848.5L68.1 837.9" stroke="#FF0000" stroke-width="1.4" fill="none"/>
<path d="M67.05 924.2L77.65 934.8M67.05 934.8L77.65 924.2" stroke="#FF0000" stroke-width="1.4" fill="none"/>
<path d="M76.6 924.2L87.2 934.8M76.6 934.8L87.2 924.2" stroke="#FF0000" stroke-width="1.4" fill="none"/>
<path d="M86.15 924.2L96.75 934.8M86.15 934.8L96.75 924.2" stroke="#FF0000" stroke-width="1.4" fill="none"/>
<path d="M95.7 924.2L106.3 934.8M95.7 934.8L106.3 924.2" stroke="#FF0000" stroke-width="1.4" fill="none"/>
<path d="M110.3 924.2L120.9 934.8M110.3 934.8L120.9 924.2" stroke="#FF0000" stroke-width="1.4" fill="none"/>
<path d="M119.85 837.4L130.45 848M119.85 848L130.45 837.4" stroke="#FF0000" stroke-width="1.4" fill="none"/>
<path d="M129.4 924.2L140 934.8M129.4 934.8L140 924.2" stroke="#FF0000" stroke-width="1.4" fill="none"/>
<path d="M138.95 924.2L149.55 934.8M138.95 934.8L149.55 924.2" stroke="#FF0000" stroke-width="1.4" fill="none"/>
<path d="M148.5 924.2L159.1 934.8M148.5 934.8L159.1 924.2" stroke="#FF0000" stroke-width="1.4" fill="none"/>
<path d="M163.1 924.2L173.7 934.8M163.1 934.8L173.7 924.2" stroke="#FF0000" stroke-width="1.4" fill="none"/>
<path d="M172.65 924.2L183.25 934.8M172.65 934.8L183.25 924.2" stroke="#FF0000" stroke-width="1.4" fill="none"/>
<path d="M182.2 1010.4L192.8 1021M182.2 1021L192.8 1010.4" stroke="#FF0000" stroke-width="1.4" fill="none"/>
<path d="M191.75 924.2L202.35 934.8M191.75 934.8L202.35 924.2" stroke="#FF0000" stroke-width="1.4" fill="none"/>
<path d="M201.3 924.2L211.9 934.8M201.3 934.8L211.9 924.2" stroke="#FF0000" stroke-width="1.4" fill="none"/>
<path d="M215.9 924.2L226.5 934.8M215.9 934.8L226.5 924.2" stroke="#FF0000" stroke-width="1.4" fill="none"/>
<path d="M225.45 924.2L236.05 934.8M225.45 934.8L236.05 924.2" stroke="#FF0000" stroke-width="1.4" fill="none"/>
<path d="M235 924.2L245.6 934.8M235 934.8L245.6 924.2" stroke="#FF0000" stroke-width="1.4" fill="none"/>
<path d="M244.55 1010.4L255.15 1021M244.55 1021L255.15 1010.4" stroke="#FF0000" stroke-width="1.4" fill="none"/>
<path d="M254.1 924.2L264.7 934.8M254.1 934.8L264.7 924.2" stroke="#FF0000" stroke-width="1.4" fill="none"/>
<path d="M268.7 924.2L279.3 934.8M268.7 934.8L279.3 924.2" stroke="#FF0000" stroke-width="1.4" fill="none"/>
<path d="M278.25 924.2L288.85 934.8M278.25 934.8L288.85 924.2" stroke="#FF0000" stroke-width="1.4" fill="none"/>
<path d="M287.8 924.2L298.4 934.8M287.8 934.8L298.4 924.2" stroke="#FF0000" stroke-width="1.4" fill="none"/>
<path d="M297.35 924.2L307.95 934.8M297.35 934.8L307.95 924.2" stroke="#FF0000" stroke-width="1.4" fill="none"/>
<path d="M306.9 924.2L317.5 934.8M306.9 934.8L317.5 924.2" stroke="#FF0000" stroke-width="1.4" fill="none"/>
<path d="M321.5 924.2L332.1 934.8M321.5 934.8L332.1 924.2" stroke="#FF0000" stroke-width="1.4" fill="none"/>
<path d="M331.05 924.2L341.65 934.8M331.05 934.8L341.65 924.2" stroke="#FF0000" stroke-width="1.4" fill="none"/>
<path d="M340.6 924.2L351.2 934.8M340.6 934.8L351.2 924.2" stroke="#FF0000" stroke-width="1.4" fill="none"/>
<path d="M350.15 924.2L360.75 934.8M350.15 934.8L360.75 924.2" stroke="#FF0000" stroke-width="1.4" fill="none"/>
<path d="M359.7 924.2L370.3 934.8M359.7 934.8L370.3 924.2" stroke="#FF0000" stroke-width="1.4" fill="none"/>
<path d="M374.3 924.2L384.9 934.8M374.3 934.8L384.9 924.2" stroke="#FF0000" stroke-width="1.4" fill="none"/>
<path d="M383.85 924.2L394.45 934.8M383.85 934.8L394.45 924.2" stroke="#FF0000" stroke-width="1.4" fill="none"/>
<path d="M393.4 924.2L404 934.8M393.4 934.8L404 924.2" stroke="#FF0000" stroke-width="1.4" fill="none"/>
<path d="M402.95 924.2L413.55 934.8M402.95 934.8L413.55 924.2" stroke="#FF0000" stroke-width="1.4" fill="none"/>
<path d="M412.5 924.2L423.1 934.8M412.5 934.8L423.1 924.2" stroke="#FF0000" stroke-width="1.4" fill="none"/>
<path d="M427.1 924.2L437.7 934.8M427.1 934.8L437.7 924.2" stroke="#FF0000" stroke-width="1.4" fill="none"/>
<path d="M436.65 924.2L447.25 934.8M436.65 934.8L447.25 924.2" stroke="#FF0000" stroke-width="1.4" fill="none"/>
<path d="M446.2 924.2L456.8 934.8M446.2 934.8L456.8 924.2" stroke="#FF0000" stroke-width="1.4" fill="none"/>
<path d="M455.75 924.2L466.35 934.8M455.75 934.8L466.35 924.2" stroke="#FF0000" stroke-width="1.4" fill="none"/>
<path d="M465.3 924.2L475.9 934.8M465.3 934.8L475.9 924.2" stroke="#FF0000" stroke-width="1.4" fill="none"/>
<path d="M479.9 924.2L490.5 934.8M479.9 934.8L490.5 924.2" stroke="#FF0000" stroke-width="1.4" fill="none"/>
<path d="M489.45 924.2L500.05 934.8M489.45 934.8L500.05 924.2" stroke="#FF0000" stroke-width="1.4" fill="none"/>
<path d="M499 924.2L509.6 934.8M499 934.8L509.6 924.2" stroke="#FF0000" stroke-width="1.4" fill="none"/>
<path d="M508.55 924.2L519.15 934.8M508.55 934.8L519.15 924.2" stroke="#FF0000" stroke-width="1.4" fill="none"/>
<path d="M518.1 924.2L528.7 934.8M518.1 934.8L528.7 924.2" stroke="#FF0000" stroke-width="1.4" fill="none"/>
<path d="M532.7 924.2L543.3 934.8M532.7 934.8L543.3 924.2" stroke="#FF0000" stroke-width="1.4" fill="none"/>
<path d="M542.25 924.2L552.85 934.8M542.25 934.8L552.85 924.2" stroke="#FF0000" stroke-width="1.4" fill="none"/>
<path d="M551.8 924.2L562.4 934.8M551.8 934.8L562.4 924.2" stroke="#FF0000" stroke-width="1.4" fill="none"/>
<path d="M561.35 924.2L571.95 934.8M561.35 934.8L571.95 924.2" stroke="#FF0000" stroke-width="1.4" fill="none"/>
<path d="M570.9 924.2L581.5 934.8M570.9 934.8L581.5 924.2" stroke="#FF0000" stroke-width="1.4" fill="none"/>
<line x1="108.45" y1="1045.1" x2="108.45" y2="795.1" stroke="#000" stroke-width="1.9" stroke-dasharray="5.9 5.95"/>
<line x1="161.25" y1="1045.1" x2="161.25" y2="795.1" stroke="#000" stroke-width="1.9" stroke-dasharray="5.9 5.95"/>
<line x1="214.05" y1="1045.1" x2="214.05" y2="795.1" stroke="#000" stroke-width="1.9" stroke-dasharray="5.9 5.95"/>
<line x1="266.85" y1="1045.1" x2="266.85" y2="795.1" stroke="#000" stroke-width="1.9" stroke-dasharray="5.9 5.95"/>
<line x1="319.65" y1="1045.1" x2="319.65" y2="795.1" stroke="#000" stroke-width="1.9" stroke-dasharray="5.9 5.95"/>
<line x1="372.45" y1="1045.1" x2="372.45" y2="795.1" stroke="#000" stroke-width="1.9" stroke-dasharray="5.9 5.95"/>
<line x1="425.25" y1="1045.1" x2="425.25" y2="795.1" stroke="#000" stroke-width="1.9" stroke-dasharray="5.9 5.95"/>
<line x1="478.05" y1="1045.1" x2="478.05" y2="795.1" stroke="#000" stroke-width="1.9" stroke-dasharray="5.9 5.95"/>
<line x1="530.85" y1="1045.1" x2="530.85" y2="795.1" stroke="#000" stroke-width="1.9" stroke-dasharray="5.9 5.95"/>
<line x1="624" y1="870.3" x2="624" y2="890.3" stroke="#333333" stroke-width="1.5"/>
<rect x="615.1" y="874.4" width="17.9" height="11.8" fill="#333333" stroke="#333333" stroke-width="1.5"/>
<line x1="624" y1="894.42" x2="624" y2="914.42" stroke="#333333" stroke-width="1.5"/>
<rect x="615.1" y="898.52" width="17.9" height="11.8" fill="#737373" stroke="#333333" stroke-width="1.5"/>
<line x1="614.9" y1="904.42" x2="633.2" y2="904.42" stroke="#333333" stroke-width="1.8"/>
<line x1="624" y1="918.54" x2="624" y2="938.54" stroke="#333333" stroke-width="1.5"/>
<rect x="615.1" y="922.64" width="17.9" height="11.8" fill="#989898" stroke="#333333" stroke-width="1.5"/>
<line x1="614.9" y1="928.54" x2="633.2" y2="928.54" stroke="#333333" stroke-width="1.8"/>
<line x1="624" y1="942.66" x2="624" y2="962.66" stroke="#333333" stroke-width="1.5"/>
<rect x="615.1" y="946.76" width="17.9" height="11.8" fill="#B4B4B4" stroke="#333333" stroke-width="1.5"/>
<line x1="614.9" y1="952.66" x2="633.2" y2="952.66" stroke="#333333" stroke-width="1.8"/>
<line x1="624" y1="966.78" x2="624" y2="986.78" stroke="#333333" stroke-width="1.5"/>
<rect x="615.1" y="970.88" width="17.9" height="11.8" fill="#CCCCCC" stroke="#333333" stroke-width="1.5"/>
<line x1="614.9" y1="976.78" x2="633.2" y2="976.78" stroke="#333333" stroke-width="1.8"/>
<g style="will-change:transform">
<path transform="translate(26.33 69.8) scale(1.0000)" d="M4.47,0 L3.42,0 L3.42,-6.95 C2.9,-6.45 1.9,-5.95 1.31,-5.7 L1.31,-6.75 C2.3,-7.2 3.2,-7.9 3.7,-8.59 L4.47,-8.59 Z" fill="#4D4D4D"/>
<text x="33" y="140" font-family="Liberation Sans" font-size="12" fill="#4D4D4D" text-anchor="end" >0</text>
<text x="19.32" y="210.2" font-family="Liberation Sans" font-size="12" fill="#4D4D4D" text-anchor="start" >&#8722;</text>
<path transform="translate(26.33 210.2) scale(1.0000)" d="M4.47,0 L3.42,0 L3.42,-6.95 C2.9,-6.45 1.9,-5.95 1.31,-5.7 L1.31,-6.75 C2.3,-7.2 3.2,-7.9 3.7,-8.59 L4.47,-8.59 Z" fill="#4D4D4D"/>
<path transform="translate(69.26 265.8) scale(1.0000)" d="M4.47,0 L3.42,0 L3.42,-6.95 C2.9,-6.45 1.9,-5.95 1.31,-5.7 L1.31,-6.75 C2.3,-7.2 3.2,-7.9 3.7,-8.59 L4.47,-8.59 Z" fill="#4D4D4D"/>
<text x="126.64" y="265.8" font-family="Liberation Sans" font-size="12" fill="#4D4D4D" text-anchor="middle" >2</text>
<text x="180.68" y="265.8" font-family="Liberation Sans" font-size="12" fill="#4D4D4D" text-anchor="middle" >3</text>
<text x="234.72" y="265.8" font-family="Liberation Sans" font-size="12" fill="#4D4D4D" text-anchor="middle" >4</text>
<text x="288.76" y="265.8" font-family="Liberation Sans" font-size="12" fill="#4D4D4D" text-anchor="middle" >5</text>
<text x="342.8" y="265.8" font-family="Liberation Sans" font-size="12" fill="#4D4D4D" text-anchor="middle" >6</text>
<text x="396.84" y="265.8" font-family="Liberation Sans" font-size="12" fill="#4D4D4D" text-anchor="middle" >7</text>
<text x="450.88" y="265.8" font-family="Liberation Sans" font-size="12" fill="#4D4D4D" text-anchor="middle" >8</text>
<text x="504.92" y="265.8" font-family="Liberation Sans" font-size="12" fill="#4D4D4D" text-anchor="middle" >9</text>
<path transform="translate(552.29 265.8) scale(1.0000)" d="M4.47,0 L3.42,0 L3.42,-6.95 C2.9,-6.45 1.9,-5.95 1.31,-5.7 L1.31,-6.75 C2.3,-7.2 3.2,-7.9 3.7,-8.59 L4.47,-8.59 Z" fill="#4D4D4D"/>
<text x="558.96" y="265.8" font-family="Liberation Sans" font-size="12" fill="#4D4D4D" text-anchor="start" >0</text>
<text x="315.75" y="284.1" font-family="Liberation Sans" font-size="15.6" fill="#000" text-anchor="middle" >Item</text>
<text x="11.3" y="124.35" font-family="Liberation Sans" font-size="15.6" fill="#000" text-anchor="middle" transform="rotate(-90 11.3 124.35)">Estimates</text>
<text x="615.2" y="79.7" font-family="Liberation Sans" font-size="15.3" fill="#000" text-anchor="start" >Category</text>
<path transform="translate(641.2 101.8) scale(1.0000)" d="M4.47,0 L3.42,0 L3.42,-6.95 C2.9,-6.45 1.9,-5.95 1.31,-5.7 L1.31,-6.75 C2.3,-7.2 3.2,-7.9 3.7,-8.59 L4.47,-8.59 Z" fill="#000"/>
<text x="641.2" y="125.87" font-family="Liberation Sans" font-size="12" fill="#000" text-anchor="start" >2</text>
<text x="641.2" y="149.94" font-family="Liberation Sans" font-size="12" fill="#000" text-anchor="start" >3</text>
<text x="641.2" y="174.01" font-family="Liberation Sans" font-size="12" fill="#000" text-anchor="start" >4</text>
<path transform="translate(19.32 375.1) scale(1.0000)" d="M4.47,0 L3.42,0 L3.42,-6.95 C2.9,-6.45 1.9,-5.95 1.31,-5.7 L1.31,-6.75 C2.3,-7.2 3.2,-7.9 3.7,-8.59 L4.47,-8.59 Z" fill="#4D4D4D"/>
<text x="25.99" y="375.1" font-family="Liberation Sans" font-size="12" fill="#4D4D4D" text-anchor="start" >.0</text>
<text x="36" y="424.15" font-family="Liberation Sans" font-size="12" fill="#4D4D4D" text-anchor="end" >0.8</text>
<text x="36" y="473.2" font-family="Liberation Sans" font-size="12" fill="#4D4D4D" text-anchor="end" >0.6</text>
<path transform="translate(77.56 497.6) scale(1.0000)" d="M4.47,0 L3.42,0 L3.42,-6.95 C2.9,-6.45 1.9,-5.95 1.31,-5.7 L1.31,-6.75 C2.3,-7.2 3.2,-7.9 3.7,-8.59 L4.47,-8.59 Z" fill="#4D4D4D"/>
<text x="143.81" y="497.6" font-family="Liberation Sans" font-size="12" fill="#4D4D4D" text-anchor="middle" >2</text>
<text x="206.72" y="497.6" font-family="Liberation Sans" font-size="12" fill="#4D4D4D" text-anchor="middle" >3</text>
<text x="269.63" y="497.6" font-family="Liberation Sans" font-size="12" fill="#4D4D4D" text-anchor="middle" >4</text>
<text x="332.54" y="497.6" font-family="Liberation Sans" font-size="12" fill="#4D4D4D" text-anchor="middle" >5</text>
<text x="395.45" y="497.6" font-family="Liberation Sans" font-size="12" fill="#4D4D4D" text-anchor="middle" >6</text>
<text x="458.36" y="497.6" font-family="Liberation Sans" font-size="12" fill="#4D4D4D" text-anchor="middle" >7</text>
<text x="521.27" y="497.6" font-family="Liberation Sans" font-size="12" fill="#4D4D4D" text-anchor="middle" >8</text>
<text x="584.18" y="497.6" font-family="Liberation Sans" font-size="12" fill="#4D4D4D" text-anchor="middle" >9</text>
<path transform="translate(640.42 497.6) scale(1.0000)" d="M4.47,0 L3.42,0 L3.42,-6.95 C2.9,-6.45 1.9,-5.95 1.31,-5.7 L1.31,-6.75 C2.3,-7.2 3.2,-7.9 3.7,-8.59 L4.47,-8.59 Z" fill="#4D4D4D"/>
<text x="647.09" y="497.6" font-family="Liberation Sans" font-size="12" fill="#4D4D4D" text-anchor="start" >0</text>
<text x="364" y="516" font-family="Liberation Sans" font-size="15.6" fill="#000" text-anchor="middle" >Item</text>
<text x="11.3" y="406.35" font-family="Liberation Sans" font-size="15.6" fill="#000" text-anchor="middle" transform="rotate(-90 11.3 406.35)">Estimates</text>
<text x="26.62" y="596.3" font-family="Liberation Sans" font-size="12" fill="#4D4D4D" text-anchor="start" >0.</text>
<path transform="translate(36.63 596.3) scale(1.0000)" d="M4.47,0 L3.42,0 L3.42,-6.95 C2.9,-6.45 1.9,-5.95 1.31,-5.7 L1.31,-6.75 C2.3,-7.2 3.2,-7.9 3.7,-8.59 L4.47,-8.59 Z" fill="#4D4D4D"/>
<text x="43.3" y="640.3" font-family="Liberation Sans" font-size="12" fill="#4D4D4D" text-anchor="end" >0.0</text>
<text x="19.61" y="684.3" font-family="Liberation Sans" font-size="12" fill="#4D4D4D" text-anchor="start" >&#8722;0.</text>
<path transform="translate(36.63 684.3) scale(1.0000)" d="M4.47,0 L3.42,0 L3.42,-6.95 C2.9,-6.45 1.9,-5.95 1.31,-5.7 L1.31,-6.75 C2.3,-7.2 3.2,-7.9 3.7,-8.59 L4.47,-8.59 Z" fill="#4D4D4D"/>
<path transform="translate(120.36 729.2) scale(1.0000)" d="M4.47,0 L3.42,0 L3.42,-6.95 C2.9,-6.45 1.9,-5.95 1.31,-5.7 L1.31,-6.75 C2.3,-7.2 3.2,-7.9 3.7,-8.59 L4.47,-8.59 Z" fill="#4D4D4D"/>
<text x="245.7" y="729.2" font-family="Liberation Sans" font-size="12" fill="#4D4D4D" text-anchor="middle" >2</text>
<text x="367.7" y="729.2" font-family="Liberation Sans" font-size="12" fill="#4D4D4D" text-anchor="middle" >3</text>
<text x="489.7" y="729.2" font-family="Liberation Sans" font-size="12" fill="#4D4D4D" text-anchor="middle" >4</text>
<text x="611.7" y="729.2" font-family="Liberation Sans" font-size="12" fill="#4D4D4D" text-anchor="middle" >5</text>
<text x="367.7" y="747.9" font-family="Liberation Sans" font-size="15.6" fill="#000" text-anchor="middle" >Covariate</text>
<text x="11.3" y="638.1" font-family="Liberation Sans" font-size="15.6" fill="#000" text-anchor="middle" transform="rotate(-90 11.3 638.1)">Estimates</text>
<text x="44" y="818.8" font-family="Liberation Sans" font-size="12" fill="#4D4D4D" text-anchor="end" >0.4</text>
<text x="44" y="876.3" font-family="Liberation Sans" font-size="12" fill="#4D4D4D" text-anchor="end" >0.2</text>
<text x="44" y="933.8" font-family="Liberation Sans" font-size="12" fill="#4D4D4D" text-anchor="end" >0.0</text>
<text x="44" y="991.3" font-family="Liberation Sans" font-size="12" fill="#4D4D4D" text-anchor="end" >&#8722;0.2</text>
<text x="44" y="1048.8" font-family="Liberation Sans" font-size="12" fill="#4D4D4D" text-anchor="end" >&#8722;0.4</text>
<path transform="translate(78.56 1060.7) scale(1.0000)" d="M4.47,0 L3.42,0 L3.42,-6.95 C2.9,-6.45 1.9,-5.95 1.31,-5.7 L1.31,-6.75 C2.3,-7.2 3.2,-7.9 3.7,-8.59 L4.47,-8.59 Z" fill="#4D4D4D"/>
<text x="134.7" y="1060.7" font-family="Liberation Sans" font-size="12" fill="#4D4D4D" text-anchor="middle" >2</text>
<text x="187.5" y="1060.7" font-family="Liberation Sans" font-size="12" fill="#4D4D4D" text-anchor="middle" >3</text>
<text x="240.3" y="1060.7" font-family="Liberation Sans" font-size="12" fill="#4D4D4D" text-anchor="middle" >4</text>
<text x="293.1" y="1060.7" font-family="Liberation Sans" font-size="12" fill="#4D4D4D" text-anchor="middle" >5</text>
<text x="345.9" y="1060.7" font-family="Liberation Sans" font-size="12" fill="#4D4D4D" text-anchor="middle" >6</text>
<text x="398.7" y="1060.7" font-family="Liberation Sans" font-size="12" fill="#4D4D4D" text-anchor="middle" >7</text>
<text x="451.5" y="1060.7" font-family="Liberation Sans" font-size="12" fill="#4D4D4D" text-anchor="middle" >8</text>
<text x="504.3" y="1060.7" font-family="Liberation Sans" font-size="12" fill="#4D4D4D" text-anchor="middle" >9</text>
<path transform="translate(550.43 1060.7) scale(1.0000)" d="M4.47,0 L3.42,0 L3.42,-6.95 C2.9,-6.45 1.9,-5.95 1.31,-5.7 L1.31,-6.75 C2.3,-7.2 3.2,-7.9 3.7,-8.59 L4.47,-8.59 Z" fill="#4D4D4D"/>
<text x="557.1" y="1060.7" font-family="Liberation Sans" font-size="12" fill="#4D4D4D" text-anchor="start" >0</text>
<text x="319.5" y="1079.7" font-family="Liberation Sans" font-size="15.6" fill="#000" text-anchor="middle" >Item</text>
<text x="11.3" y="919.7" font-family="Liberation Sans" font-size="15.6" fill="#000" text-anchor="middle" transform="rotate(-90 11.3 919.7)">Estimates</text>
<text x="612.5" y="863.1" font-family="Liberation Sans" font-size="15.3" fill="#000" text-anchor="start" >Covariate</text>
<path transform="translate(639.8 884.6) scale(1.0000)" d="M4.47,0 L3.42,0 L3.42,-6.95 C2.9,-6.45 1.9,-5.95 1.31,-5.7 L1.31,-6.75 C2.3,-7.2 3.2,-7.9 3.7,-8.59 L4.47,-8.59 Z" fill="#000"/>
<text x="639.8" y="908.72" font-family="Liberation Sans" font-size="12" fill="#000" text-anchor="start" >2</text>
<text x="639.8" y="932.84" font-family="Liberation Sans" font-size="12" fill="#000" text-anchor="start" >3</text>
<text x="639.8" y="956.96" font-family="Liberation Sans" font-size="12" fill="#000" text-anchor="start" >4</text>
<text x="639.8" y="981.08" font-family="Liberation Sans" font-size="12" fill="#000" text-anchor="start" >5</text>
<text x="35.2" y="316.6" font-family="Liberation Serif" font-size="15.5" fill="#000" stroke="#000" stroke-width="0.1" word-spacing="1.88" >(a) Parameter estimates and true values for item step parameters</text>
<text x="456.4" y="316.6" font-family="Liberation Serif" font-size="17.5" font-style="italic" fill="#000" stroke="#000" stroke-width="0.2">&#948;</text>
<text transform="translate(464.6 318.7) scale(1.3 1)" x="0" y="0" font-family="Liberation Serif" font-size="12.2" font-style="italic" fill="#000" stroke="#000" stroke-width="0.2">i</text>
<text transform="translate(469.8 318.7) scale(1.3 1)" x="0" y="0" font-family="Liberation Serif" font-size="12.2" font-style="italic" fill="#000" stroke="#000" stroke-width="0.2">r</text>
<text x="486.6" y="316.6" font-family="Liberation Serif" font-size="15.5" fill="#000" stroke="#000" stroke-width="0.1" word-spacing="2.1" >(for items 1-10)</text>
<text x="19.5" y="548.7" font-family="Liberation Serif" font-size="15.5" fill="#000" stroke="#000" stroke-width="0.1" word-spacing="1.96" >(b) Parameter estimates and true values for discrimination parameters</text>
<text transform="translate(476 548.6) scale(1.12 1)" x="0" y="0" font-family="Liberation Serif" font-size="17.5" font-style="italic" fill="#000" stroke="#000" stroke-width="0.2">&#946;</text>
<text transform="translate(485.6 550.7) scale(1.3 1)" x="0" y="0" font-family="Liberation Serif" font-size="12.2" font-style="italic" fill="#000" stroke="#000" stroke-width="0.2">i</text>
<text x="500.4" y="548.7" font-family="Liberation Serif" font-size="15.5" fill="#000" stroke="#000" stroke-width="0.1" word-spacing="2.1" >(for items 1-10)</text>
<text x="86.8" y="780.8" font-family="Liberation Serif" font-size="15.5" fill="#000" stroke="#000" stroke-width="0.1" word-spacing="2.01" >(c) Parameter estimates and true values for main effect parameters</text>
<text transform="translate(524 780.2) scale(1.12 1)" x="0" y="0" font-family="Liberation Serif" font-size="17.5" font-style="italic" fill="#000" stroke="#000" stroke-width="0.2">&#945;</text>
<text transform="translate(535.6 782.9) scale(1.3 1)" x="0" y="0" font-family="Liberation Serif" font-size="12.2" font-style="italic" fill="#000" stroke="#000" stroke-width="0.2">j</text>
<text x="53.6" y="1112.5" font-family="Liberation Serif" font-size="15.5" fill="#000" stroke="#000" stroke-width="0.1" word-spacing="1.81" >(d) Parameter estimates and true values for DIF parameters</text>
<path d="M444.1,1106.5 C444.8,1104.7 446.2,1104.2 447.2,1104.4 C448.6,1104.7 449.4,1106.5 449.5,1109.5 C449.5,1111.5 448.9,1113.3 448.5,1115" fill="none" stroke="#000" stroke-width="1.15" stroke-linecap="round"/>
<path d="M452.5,1104.3 L450.2,1108.8" fill="none" stroke="#000" stroke-width="0.95" stroke-linecap="round"/>
<text transform="translate(452.6 1114.5) scale(1.3 1)" x="0" y="0" font-family="Liberation Serif" font-size="12.2" font-style="italic" fill="#000" stroke="#000" stroke-width="0.2">i</text>
<text transform="translate(457.6 1114.5) scale(1.3 1)" x="0" y="0" font-family="Liberation Serif" font-size="12.2" font-style="italic" fill="#000" stroke="#000" stroke-width="0.2">j</text>
<text x="474.3" y="1112.5" font-family="Liberation Serif" font-size="15.5" fill="#000" stroke="#000" stroke-width="0.1" word-spacing="2.1" >(for items 1-10)</text>
</g>
</svg>
</body></html>
